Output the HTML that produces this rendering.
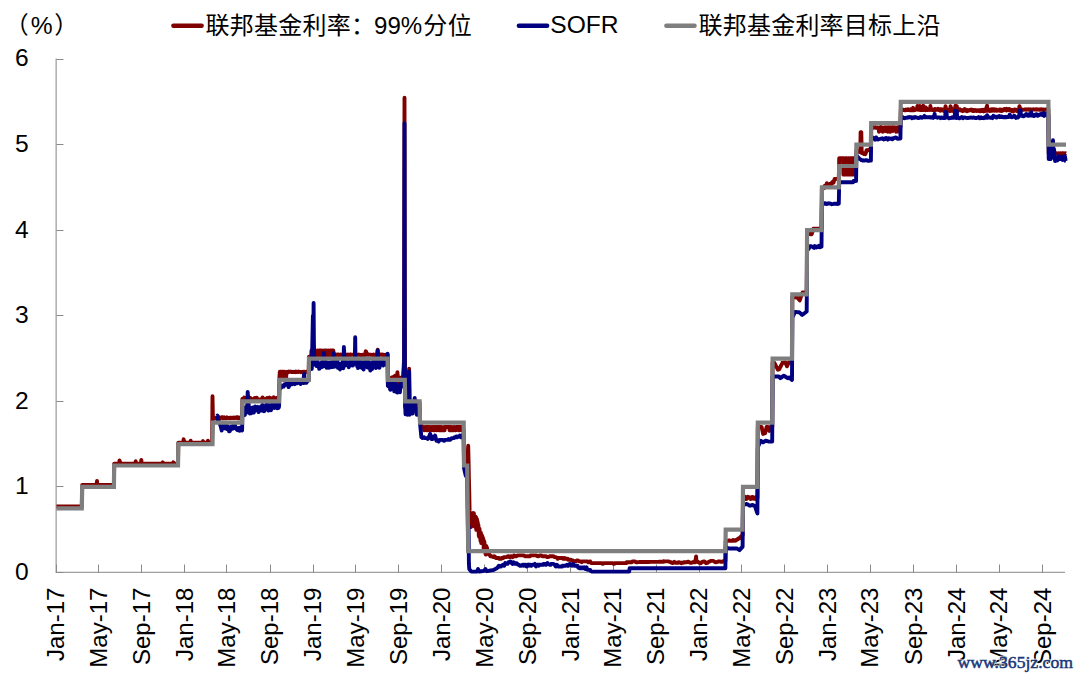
<!DOCTYPE html>
<html><head><meta charset="utf-8"><title>chart</title>
<style>html,body{margin:0;padding:0;background:#fff}body{width:1080px;height:678px;position:relative;overflow:hidden;font-family:"Liberation Sans",sans-serif}</style>
</head><body>
<svg width="1080" height="678" viewBox="0 0 1080 678" style="position:absolute;left:0;top:0">
<defs><filter id="soft" x="-2%" y="-2%" width="104%" height="104%" color-interpolation-filters="sRGB"><feGaussianBlur stdDeviation="0.4"/></filter></defs><g filter="url(#soft)">
<path d="M56.15 58.5 V572.4 H1065" fill="none" stroke="#a0a0a0" stroke-width="1.3"/><path d="M56.5 572.5 H63.5" stroke="#8a8a8a" stroke-width="1"/><path d="M56.5 486.5 H63.5" stroke="#8a8a8a" stroke-width="1"/><path d="M56.5 401.5 H63.5" stroke="#8a8a8a" stroke-width="1"/><path d="M56.5 315.5 H63.5" stroke="#8a8a8a" stroke-width="1"/><path d="M56.5 230.5 H63.5" stroke="#8a8a8a" stroke-width="1"/><path d="M56.5 144.5 H63.5" stroke="#8a8a8a" stroke-width="1"/><path d="M56.5 59.5 H63.5" stroke="#8a8a8a" stroke-width="1"/><path d="M56.5 572.5 V564.5" stroke="#8a8a8a" stroke-width="1"/><path d="M98.5 572.5 V564.5" stroke="#8a8a8a" stroke-width="1"/><path d="M141.5 572.5 V564.5" stroke="#8a8a8a" stroke-width="1"/><path d="M184.5 572.5 V564.5" stroke="#8a8a8a" stroke-width="1"/><path d="M226.5 572.5 V564.5" stroke="#8a8a8a" stroke-width="1"/><path d="M270.5 572.5 V564.5" stroke="#8a8a8a" stroke-width="1"/><path d="M313.5 572.5 V564.5" stroke="#8a8a8a" stroke-width="1"/><path d="M355.5 572.5 V564.5" stroke="#8a8a8a" stroke-width="1"/><path d="M398.5 572.5 V564.5" stroke="#8a8a8a" stroke-width="1"/><path d="M441.5 572.5 V564.5" stroke="#8a8a8a" stroke-width="1"/><path d="M484.5 572.5 V564.5" stroke="#8a8a8a" stroke-width="1"/><path d="M527.5 572.5 V564.5" stroke="#8a8a8a" stroke-width="1"/><path d="M570.5 572.5 V564.5" stroke="#8a8a8a" stroke-width="1"/><path d="M613.5 572.5 V564.5" stroke="#8a8a8a" stroke-width="1"/><path d="M656.5 572.5 V564.5" stroke="#8a8a8a" stroke-width="1"/><path d="M699.5 572.5 V564.5" stroke="#8a8a8a" stroke-width="1"/><path d="M741.5 572.5 V564.5" stroke="#8a8a8a" stroke-width="1"/><path d="M784.5 572.5 V564.5" stroke="#8a8a8a" stroke-width="1"/><path d="M827.5 572.5 V564.5" stroke="#8a8a8a" stroke-width="1"/><path d="M870.5 572.5 V564.5" stroke="#8a8a8a" stroke-width="1"/><path d="M913.5 572.5 V564.5" stroke="#8a8a8a" stroke-width="1"/><path d="M956.5 572.5 V564.5" stroke="#8a8a8a" stroke-width="1"/><path d="M999.5 572.5 V564.5" stroke="#8a8a8a" stroke-width="1"/><path d="M1042.5 572.5 V564.5" stroke="#8a8a8a" stroke-width="1"/>
<g fill="none" stroke-linejoin="round" stroke-linecap="butt" stroke-width="3.9">
<path d="M56.5 506.4 L56.8 506.4 L57.2 506.4 L57.5 506.4 L57.9 506.4 L58.9 506.4 L59.3 506.4 L59.6 506.4 L60.0 506.4 L60.3 506.4 L61.4 506.4 L61.7 506.4 L62.1 506.4 L62.4 506.4 L62.8 506.4 L63.8 506.4 L64.2 506.4 L64.6 506.4 L64.9 506.4 L65.3 506.4 L66.3 506.4 L66.7 506.4 L67.0 506.4 L67.4 506.4 L67.7 506.4 L68.8 506.4 L69.1 506.4 L69.5 506.4 L69.8 506.4 L70.2 506.4 L71.2 506.4 L71.6 506.4 L72.0 506.4 L72.3 506.4 L72.7 506.4 L73.7 506.4 L74.1 506.4 L74.4 506.4 L74.8 506.4 L75.1 506.4 L76.2 506.4 L76.5 506.4 L76.9 506.4 L77.2 506.4 L77.6 506.4 L78.6 506.4 L79.0 506.4 L79.3 506.4 L79.7 506.4 L80.1 506.4 L81.1 506.4 L81.5 506.4 L81.8 506.4 L82.2 485.0 L82.5 485.0 L83.6 485.0 L83.9 485.0 L84.3 485.0 L84.6 485.0 L85.0 485.0 L86.0 485.0 L86.4 485.0 L86.7 485.0 L87.1 485.0 L87.5 485.0 L88.5 485.0 L88.9 485.0 L89.2 485.0 L89.6 485.0 L89.9 485.0 L91.0 485.0 L91.3 485.0 L91.7 485.0 L92.0 485.0 L92.4 485.0 L93.4 485.0 L93.8 485.0 L94.1 485.0 L94.5 485.0 L94.8 485.0 L95.9 485.0 L96.3 485.0 L96.6 485.0 L97.0 480.9 L97.3 485.0 L98.4 485.0 L98.7 485.0 L99.1 485.0 L99.4 485.0 L99.8 485.0 L100.8 485.0 L101.2 485.0 L101.5 485.0 L101.9 485.0 L102.2 485.0 L103.3 485.0 L103.7 485.0 L104.0 485.0 L104.4 485.0 L104.7 485.0 L105.8 485.0 L106.1 485.0 L106.5 485.0 L106.8 485.0 L107.2 485.0 L108.2 485.0 L108.6 485.0 L108.9 485.0 L109.3 485.0 L109.6 485.0 L110.7 485.0 L111.1 485.0 L111.4 485.0 L111.8 485.0 L112.1 485.0 L113.2 485.0 L113.5 485.0 L113.9 485.0 L114.2 463.6 L114.6 463.6 L115.6 463.6 L116.0 463.6 L116.3 463.6 L116.7 463.6 L117.0 463.6 L118.1 463.6 L118.4 463.6 L118.8 463.6 L119.2 463.6 L119.5 460.4 L120.6 463.6 L120.9 463.6 L121.3 463.6 L121.6 463.6 L122.0 463.6 L123.0 463.6 L123.4 463.6 L123.7 463.6 L124.1 463.6 L124.4 463.6 L125.5 463.6 L125.8 463.6 L126.2 463.6 L126.6 463.6 L126.9 463.6 L128.0 463.6 L128.3 463.6 L128.7 463.6 L129.0 463.6 L129.4 463.6 L130.4 463.6 L130.8 463.6 L131.1 463.6 L131.5 463.6 L131.8 463.6 L132.9 463.6 L133.2 463.6 L133.6 463.6 L133.9 463.6 L134.3 463.6 L135.4 463.6 L135.7 461.2 L136.1 463.6 L136.4 463.6 L136.8 463.6 L137.8 463.6 L138.2 463.6 L138.5 463.6 L138.9 463.6 L139.2 463.6 L140.3 463.6 L140.6 463.6 L141.0 463.6 L141.3 460.0 L141.7 463.6 L142.8 463.6 L143.1 463.6 L143.5 463.6 L143.8 463.6 L144.2 463.6 L145.2 463.6 L145.6 463.6 L145.9 463.6 L146.3 463.6 L146.6 463.6 L147.7 463.6 L148.0 463.6 L148.4 463.6 L148.7 463.6 L149.1 463.6 L150.2 463.6 L150.5 463.6 L150.9 463.6 L151.2 463.6 L151.6 463.6 L152.6 463.6 L153.0 463.6 L153.3 463.6 L153.7 463.6 L154.0 463.6 L155.1 463.6 L155.4 463.6 L155.8 463.6 L156.1 463.6 L156.5 463.6 L157.5 463.6 L157.9 463.6 L158.3 463.6 L158.6 463.6 L159.0 463.6 L160.0 463.6 L160.4 463.6 L160.7 463.6 L161.1 463.6 L161.4 463.6 L162.5 463.6 L162.8 462.3 L163.2 463.6 L163.5 463.6 L163.9 463.6 L164.9 463.6 L165.3 463.6 L165.6 463.6 L166.0 463.6 L166.4 463.6 L167.4 463.6 L167.8 463.6 L168.1 463.6 L168.5 463.6 L168.8 463.6 L169.9 463.6 L170.2 463.6 L170.6 463.6 L170.9 463.6 L171.3 463.6 L172.3 463.6 L172.7 463.6 L173.0 463.6 L173.4 462.3 L173.8 463.6 L174.8 463.6 L175.2 463.6 L175.5 463.6 L175.9 463.6 L176.2 463.6 L177.3 463.6 L177.6 463.6 L178.0 463.6 L178.3 442.8 L178.7 442.8 L179.7 442.8 L180.1 442.8 L180.4 442.8 L180.8 442.8 L181.1 442.8 L182.2 442.8 L182.6 442.8 L182.9 442.8 L183.3 442.8 L183.6 439.2 L184.7 442.8 L185.0 442.8 L185.4 442.8 L185.7 442.8 L186.1 442.8 L187.1 442.8 L187.5 442.8 L187.8 442.8 L188.2 442.8 L188.5 442.8 L189.6 442.8 L190.0 442.8 L190.3 442.8 L190.7 440.7 L191.0 442.8 L192.1 442.8 L192.4 442.8 L192.8 442.8 L193.1 442.8 L193.5 442.8 L194.5 442.8 L194.9 442.8 L195.2 442.8 L195.6 442.8 L195.9 442.8 L197.0 442.8 L197.4 442.8 L197.7 442.8 L198.1 442.8 L198.4 442.8 L199.5 442.8 L199.8 442.8 L200.2 442.8 L200.5 442.8 L200.9 442.8 L201.9 442.8 L202.3 442.8 L202.6 442.8 L203.0 441.1 L203.3 442.8 L204.4 442.8 L204.7 442.8 L205.1 442.8 L205.5 442.8 L205.8 442.8 L206.9 442.8 L207.2 442.8 L207.6 442.8 L207.9 440.7 L208.3 442.8 L209.3 442.8 L209.7 442.8 L210.0 442.8 L210.4 442.8 L210.7 442.8 L211.8 442.8 L212.1 442.8 L212.5 396.2 L212.9 418.0 L213.2 418.3 L214.3 417.6 L214.6 418.4 L215.0 417.8 L215.3 418.0 L215.7 418.4 L216.7 417.8 L217.1 418.4 L217.4 417.9 L217.8 418.4 L218.1 418.3 L219.2 417.9 L219.5 417.4 L219.9 418.3 L220.2 418.2 L220.6 417.7 L221.7 417.2 L222.0 417.7 L222.4 417.9 L222.7 417.2 L223.1 418.4 L224.1 417.4 L224.5 418.1 L224.8 418.3 L225.2 418.3 L225.5 418.1 L226.6 417.4 L226.9 418.2 L227.3 417.7 L227.6 417.6 L228.0 418.0 L229.1 417.8 L229.4 418.4 L229.8 418.4 L230.1 418.2 L230.5 417.6 L231.5 417.9 L231.9 418.1 L232.2 417.7 L232.6 417.9 L232.9 418.1 L234.0 417.4 L234.3 417.6 L234.7 418.1 L235.0 417.7 L235.4 417.8 L236.5 417.3 L236.8 417.5 L237.2 418.1 L237.5 417.2 L237.9 418.3 L238.9 417.9 L239.3 417.5 L239.6 418.3 L240.0 417.8 L240.3 418.4 L241.4 417.6 L241.7 417.5 L242.1 417.7 L242.4 398.9 L242.8 398.6 L243.8 398.9 L244.2 397.6 L244.6 398.8 L244.9 399.5 L245.3 398.0 L246.3 399.0 L246.7 399.0 L247.0 399.6 L247.4 399.6 L247.7 399.5 L248.8 399.5 L249.1 398.8 L249.5 399.5 L249.8 398.4 L250.2 397.8 L251.2 399.3 L251.6 398.8 L252.0 399.3 L252.3 399.5 L252.7 399.3 L253.7 399.2 L254.1 399.6 L254.4 399.1 L254.8 397.9 L255.1 398.8 L256.2 399.5 L256.5 397.8 L256.9 397.8 L257.2 399.2 L257.6 399.5 L258.6 399.6 L259.0 399.5 L259.3 399.6 L259.7 399.6 L260.1 399.5 L261.1 399.6 L261.5 399.4 L261.8 399.4 L262.2 399.5 L262.5 397.5 L263.6 399.0 L263.9 399.6 L264.3 399.4 L264.6 399.3 L265.0 399.6 L266.0 399.4 L266.4 399.6 L266.7 398.3 L267.1 398.1 L267.4 399.4 L268.5 399.3 L268.9 398.6 L269.2 399.4 L269.6 397.6 L269.9 397.9 L271.0 398.1 L271.3 399.3 L271.7 399.6 L272.0 399.6 L272.4 399.2 L273.4 398.5 L273.8 397.3 L274.1 398.7 L274.5 399.5 L274.8 399.5 L275.9 398.2 L276.3 398.6 L276.6 398.3 L277.0 399.5 L277.3 397.8 L278.4 398.7 L278.7 399.3 L279.1 398.9 L279.4 378.2 L279.8 371.8 L280.8 371.8 L281.2 378.2 L281.5 378.2 L281.9 371.8 L282.2 371.8 L283.3 371.8 L283.7 378.2 L284.0 378.2 L284.4 371.8 L284.7 378.2 L285.8 378.2 L286.1 378.2 L286.5 372.0 L286.8 371.9 L287.2 372.2 L288.2 372.2 L288.6 371.6 L288.9 371.8 L289.3 371.9 L289.6 371.6 L290.7 371.9 L291.1 371.6 L291.4 371.7 L291.8 372.1 L292.1 372.1 L293.2 372.0 L293.5 372.1 L293.9 371.8 L294.2 372.1 L294.6 372.0 L295.6 372.2 L296.0 371.6 L296.3 372.0 L296.7 371.9 L297.0 371.8 L298.1 371.6 L298.4 372.0 L298.8 371.6 L299.2 371.9 L299.5 371.9 L300.6 371.9 L300.9 372.2 L301.3 371.9 L301.6 372.1 L302.0 372.2 L303.0 371.7 L303.4 372.1 L303.7 371.9 L304.1 371.7 L304.4 371.9 L305.5 372.0 L305.8 371.9 L306.2 371.9 L306.5 371.7 L306.9 372.2 L308.0 371.9 L308.3 372.1 L308.7 372.1 L309.0 356.8 L309.4 356.8 L310.4 356.8 L310.8 356.8 L311.1 356.8 L311.5 350.4 L311.8 356.8 L312.9 356.8 L313.2 356.8 L313.6 356.8 L313.9 350.4 L314.3 356.8 L315.4 350.4 L315.7 356.8 L316.1 356.8 L316.4 356.8 L316.8 356.8 L317.8 350.4 L318.2 356.8 L318.5 356.8 L318.9 356.8 L319.2 350.4 L320.3 350.4 L320.6 350.4 L321.0 350.4 L321.3 350.4 L321.7 350.4 L322.8 356.8 L323.1 356.8 L323.5 356.8 L323.8 350.4 L324.2 356.8 L325.2 356.8 L325.6 350.4 L325.9 356.8 L326.3 356.8 L326.6 350.4 L327.7 356.8 L328.0 350.4 L328.4 350.4 L328.7 356.8 L329.1 356.8 L330.2 350.4 L330.5 350.4 L330.9 356.8 L331.2 350.4 L331.6 350.4 L332.6 350.4 L333.0 356.8 L333.3 350.4 L333.7 356.8 L334.0 354.8 L335.1 355.1 L335.4 354.9 L335.8 354.7 L336.1 354.8 L336.5 355.1 L337.5 354.5 L337.9 354.6 L338.3 354.5 L338.6 355.1 L339.0 354.9 L340.0 355.1 L340.4 354.6 L340.7 354.9 L341.1 355.0 L341.4 354.8 L342.5 354.5 L342.8 354.6 L343.2 354.9 L343.5 355.0 L343.9 354.5 L344.9 354.7 L345.3 354.6 L345.6 355.1 L346.0 355.1 L346.4 354.7 L347.4 354.8 L347.8 355.1 L348.1 354.5 L348.5 354.7 L348.8 354.6 L349.9 355.1 L350.2 354.5 L350.6 355.1 L350.9 354.5 L351.3 354.8 L352.3 354.9 L352.7 354.7 L353.0 354.5 L353.4 354.9 L353.8 355.0 L354.8 354.8 L355.2 355.0 L355.5 355.1 L355.9 355.0 L356.2 355.1 L357.3 355.0 L357.6 354.9 L358.0 354.9 L358.3 354.6 L358.7 354.9 L359.7 354.8 L360.1 355.0 L360.4 354.9 L360.8 355.1 L361.1 355.0 L362.2 355.1 L362.6 354.6 L362.9 354.7 L363.3 355.0 L363.6 354.8 L364.7 354.5 L365.0 355.1 L365.4 354.6 L365.7 351.3 L366.1 351.7 L367.1 354.6 L367.5 354.9 L367.8 354.8 L368.2 354.7 L368.5 354.5 L369.6 354.9 L370.0 354.6 L370.3 354.6 L370.7 354.7 L371.0 354.8 L372.1 354.9 L372.4 355.1 L372.8 355.0 L373.1 355.1 L373.5 354.6 L374.5 355.0 L374.9 355.0 L375.2 355.1 L375.6 354.6 L375.9 354.5 L377.0 354.7 L377.4 351.7 L377.7 349.6 L378.1 354.9 L378.4 354.8 L379.5 355.0 L379.8 354.8 L380.2 354.9 L380.5 354.5 L380.9 354.5 L381.9 354.8 L382.3 355.0 L382.6 354.5 L383.0 354.9 L383.3 354.9 L384.4 355.1 L384.7 354.9 L385.1 354.8 L385.5 354.8 L385.8 355.0 L386.9 354.8 L387.2 355.1 L387.6 354.9 L387.9 385.0 L388.3 381.8 L389.3 385.5 L389.7 385.7 L390.0 382.8 L390.4 383.5 L390.7 379.9 L391.8 377.4 L392.1 378.2 L392.5 379.2 L392.9 378.6 L393.2 376.9 L394.3 381.9 L394.6 382.6 L395.0 375.8 L395.3 384.4 L395.7 378.5 L396.7 379.3 L397.1 385.5 L397.4 372.2 L397.8 376.8 L398.1 379.5 L399.2 378.4 L399.5 377.6 L399.9 384.5 L400.2 380.6 L400.6 380.8 L401.7 377.4 L402.0 377.7 L402.4 377.4 L402.7 379.9 L403.1 376.8 L404.1 358.6 L404.5 97.7 L404.8 315.8 L405.2 407.1 L405.5 406.5 L406.6 405.2 L406.9 406.7 L407.3 402.3 L407.6 404.0 L408.0 403.6 L409.1 368.8 L409.4 384.2 L409.8 404.4 L410.1 407.3 L410.5 402.6 L411.5 402.8 L411.9 404.3 L412.2 404.1 L412.6 403.4 L412.9 406.9 L414.0 402.9 L414.3 405.8 L414.7 406.9 L415.0 405.7 L415.4 403.0 L416.5 406.1 L416.8 402.9 L417.2 401.5 L417.5 404.4 L417.9 405.0 L418.9 404.5 L419.3 403.2 L419.6 402.7 L420.0 423.6 L420.3 424.0 L421.4 425.3 L421.7 425.7 L422.1 426.2 L422.4 426.6 L422.8 427.0 L423.8 428.3 L424.2 430.3 L424.6 430.3 L424.9 427.0 L425.3 427.0 L426.3 427.0 L426.7 430.3 L427.0 427.0 L427.4 430.3 L427.7 427.0 L428.8 427.0 L429.1 427.0 L429.5 430.3 L429.8 430.3 L430.2 430.3 L431.2 427.0 L431.6 430.3 L432.0 427.0 L432.3 427.0 L432.7 427.0 L433.7 430.3 L434.1 427.0 L434.4 430.3 L434.8 430.3 L435.1 427.0 L436.2 427.0 L436.5 430.3 L436.9 430.3 L437.2 427.0 L437.6 427.0 L438.6 427.0 L439.0 430.3 L439.3 427.0 L439.7 430.3 L440.1 427.0 L441.1 430.3 L441.5 430.3 L441.8 427.0 L442.2 430.3 L442.5 430.3 L443.6 430.3 L443.9 430.3 L444.3 427.0 L444.6 430.3 L445.0 427.0 L446.0 427.0 L446.4 427.0 L446.7 427.0 L447.1 427.0 L447.4 427.0 L448.5 427.0 L448.9 427.0 L449.2 427.0 L449.6 430.3 L449.9 427.0 L451.0 430.3 L451.3 430.3 L451.7 427.0 L452.0 430.3 L452.4 430.3 L453.4 430.3 L453.8 427.0 L454.1 427.0 L454.5 427.0 L454.8 430.3 L455.9 430.3 L456.3 427.0 L456.6 427.0 L457.0 427.0 L457.3 427.0 L458.4 427.0 L458.7 430.3 L459.1 427.0 L459.4 430.3 L459.8 427.0 L460.8 427.0 L461.2 430.3 L461.5 427.0 L461.9 427.0 L462.2 430.3 L463.3 430.3 L463.7 430.3 L464.0 463.0 L464.4 463.0 L464.7 463.0 L465.8 463.0 L466.1 463.0 L466.5 463.0 L466.8 463.0 L467.2 463.0 L468.2 445.8 L468.6 462.1 L468.9 478.4 L469.3 494.6 L469.6 510.9 L470.7 527.1 L471.1 526.8 L471.4 526.5 L471.8 526.2 L472.1 525.9 L473.2 512.9 L473.5 524.6 L473.9 513.3 L474.2 525.9 L474.6 526.6 L475.6 516.6 L476.0 517.3 L476.3 529.9 L476.7 518.6 L477.0 519.7 L478.1 524.2 L478.4 525.3 L478.8 535.8 L479.2 536.9 L479.5 528.6 L480.6 541.3 L480.9 532.8 L481.3 543.1 L481.6 534.7 L482.0 535.6 L483.0 538.4 L483.4 539.3 L483.7 549.7 L484.1 541.2 L484.4 542.1 L485.5 553.8 L485.8 554.6 L486.2 545.9 L486.5 546.7 L486.9 547.4 L488.0 553.7 L488.3 553.7 L488.7 553.7 L489.0 554.5 L489.4 554.5 L490.4 556.2 L490.8 556.2 L491.1 556.2 L491.5 556.2 L491.8 556.2 L492.9 557.1 L493.2 557.1 L493.6 557.1 L493.9 557.1 L494.3 556.2 L495.4 557.1 L495.7 558.0 L496.1 558.0 L496.4 558.0 L496.8 558.0 L497.8 558.0 L498.2 558.0 L498.5 558.0 L498.9 558.0 L499.2 558.8 L500.3 558.8 L500.6 558.8 L501.0 558.8 L501.3 558.8 L501.7 558.0 L502.8 558.0 L503.1 558.0 L503.5 558.0 L503.8 557.1 L504.2 557.1 L505.2 557.1 L505.6 557.1 L505.9 557.1 L506.3 557.1 L506.6 557.1 L507.7 556.2 L508.0 556.2 L508.4 556.2 L508.7 556.2 L509.1 557.1 L510.2 557.1 L510.5 557.1 L510.9 556.2 L511.2 556.2 L511.6 556.2 L512.6 557.1 L513.0 556.2 L513.3 556.2 L513.7 556.2 L514.0 555.4 L515.1 556.2 L515.4 556.2 L515.8 556.2 L516.1 556.2 L516.5 556.2 L517.5 555.4 L517.9 555.4 L518.3 555.4 L518.6 555.4 L519.0 555.4 L520.0 555.4 L520.4 555.4 L520.7 555.4 L521.1 555.4 L521.4 555.4 L522.5 555.4 L522.8 555.4 L523.2 555.4 L523.5 555.4 L523.9 555.4 L524.9 556.2 L525.3 556.2 L525.6 556.2 L526.0 556.2 L526.4 556.2 L527.4 556.2 L527.8 556.2 L528.1 556.2 L528.5 556.2 L528.8 556.2 L529.9 556.2 L530.2 556.2 L530.6 555.4 L530.9 555.4 L531.3 555.4 L532.3 555.4 L532.7 555.4 L533.0 555.4 L533.4 555.4 L533.8 555.4 L534.8 555.4 L535.2 555.4 L535.5 555.4 L535.9 555.4 L536.2 555.4 L537.3 556.2 L537.6 556.2 L538.0 556.2 L538.3 556.2 L538.7 556.2 L539.7 555.4 L540.1 555.4 L540.4 555.4 L540.8 555.4 L541.1 555.4 L542.2 556.2 L542.6 556.2 L542.9 556.2 L543.3 556.2 L543.6 556.2 L544.7 556.2 L545.0 556.2 L545.4 556.2 L545.7 556.2 L546.1 556.2 L547.1 557.1 L547.5 557.1 L547.8 557.1 L548.2 557.1 L548.5 557.1 L549.6 556.2 L550.0 556.2 L550.3 556.2 L550.7 556.2 L551.0 556.2 L552.1 556.2 L552.4 556.2 L552.8 556.2 L553.1 556.2 L553.5 556.2 L554.5 557.1 L554.9 557.1 L555.2 557.1 L555.6 557.1 L555.9 557.1 L557.0 558.0 L557.4 558.0 L557.7 558.8 L558.1 558.0 L558.4 558.0 L559.5 558.0 L559.8 558.0 L560.2 558.0 L560.5 558.0 L560.9 558.0 L561.9 558.0 L562.3 558.0 L562.6 558.0 L563.0 558.8 L563.3 558.8 L564.4 558.8 L564.7 558.0 L565.1 558.8 L565.5 558.8 L565.8 558.8 L566.9 558.8 L567.2 558.8 L567.6 558.8 L567.9 559.7 L568.3 559.7 L569.3 559.7 L569.7 559.7 L570.0 559.7 L570.4 559.7 L570.7 559.7 L571.8 560.5 L572.1 560.5 L572.5 560.5 L572.9 560.5 L573.2 560.5 L574.3 561.4 L574.6 561.4 L575.0 561.4 L575.3 561.4 L575.7 561.4 L576.7 560.5 L577.1 560.5 L577.4 560.5 L577.8 560.5 L578.1 560.5 L579.2 561.4 L579.5 561.4 L579.9 561.4 L580.2 561.4 L580.6 561.4 L581.7 562.2 L582.0 561.4 L582.4 561.4 L582.7 561.4 L583.1 561.4 L584.1 561.4 L584.5 561.4 L584.8 561.4 L585.2 561.4 L585.5 561.4 L586.6 561.4 L586.9 561.4 L587.3 561.4 L587.6 561.4 L588.0 562.2 L589.1 562.2 L589.4 562.2 L589.8 562.2 L590.1 561.4 L590.5 562.2 L591.5 563.1 L591.9 563.1 L592.2 563.1 L592.6 563.1 L592.9 563.1 L594.0 563.1 L594.3 563.1 L594.7 563.1 L595.0 563.1 L595.4 563.1 L596.5 563.1 L596.8 563.1 L597.2 563.1 L597.5 563.1 L597.9 563.1 L598.9 563.1 L599.3 563.1 L599.6 563.1 L600.0 563.1 L600.3 563.1 L601.4 563.1 L601.7 563.1 L602.1 563.1 L602.4 563.9 L602.8 563.9 L603.8 563.1 L604.2 563.1 L604.6 563.1 L604.9 563.1 L605.3 563.1 L606.3 563.1 L606.7 563.1 L607.0 563.1 L607.4 563.1 L607.7 563.1 L608.8 563.1 L609.1 563.1 L609.5 563.1 L609.8 563.1 L610.2 563.1 L611.2 563.1 L611.6 563.1 L612.0 563.1 L612.3 563.1 L612.7 563.1 L613.7 563.9 L614.1 563.9 L614.4 563.9 L614.8 563.1 L615.1 563.1 L616.2 563.1 L616.5 563.1 L616.9 563.1 L617.2 563.1 L617.6 563.1 L618.6 563.1 L619.0 563.1 L619.3 563.1 L619.7 563.1 L620.1 563.1 L621.1 563.1 L621.5 563.1 L621.8 563.1 L622.2 563.1 L622.5 563.1 L623.6 563.1 L623.9 563.1 L624.3 563.1 L624.6 563.1 L625.0 563.1 L626.0 563.1 L626.4 563.1 L626.7 562.2 L627.1 562.2 L627.4 562.2 L628.5 562.2 L628.9 562.2 L629.2 562.2 L629.6 562.2 L629.9 562.2 L631.0 562.2 L631.3 562.2 L631.7 562.2 L632.0 562.2 L632.4 561.4 L633.4 561.4 L633.8 561.4 L634.1 561.4 L634.5 561.4 L634.8 561.4 L635.9 562.2 L636.3 562.2 L636.6 562.2 L637.0 562.2 L637.3 562.2 L638.4 562.1 L638.7 562.1 L639.1 562.1 L639.4 562.0 L639.8 562.0 L640.8 562.0 L641.2 562.0 L641.5 562.0 L641.9 562.0 L642.2 562.0 L643.3 562.0 L643.7 562.0 L644.0 562.0 L644.4 562.0 L644.7 562.0 L645.8 562.0 L646.1 562.0 L646.5 562.0 L646.8 562.0 L647.2 562.0 L648.2 562.0 L648.6 562.0 L648.9 562.0 L649.3 561.9 L649.6 561.9 L650.7 561.9 L651.1 561.9 L651.4 561.9 L651.8 561.9 L652.1 561.9 L653.2 561.9 L653.5 561.9 L653.9 561.9 L654.2 561.9 L654.6 561.9 L655.6 561.9 L656.0 561.9 L656.3 561.9 L656.7 561.9 L657.0 561.9 L658.1 561.9 L658.4 561.9 L658.8 561.8 L659.2 561.8 L659.5 561.8 L660.6 561.8 L660.9 561.8 L661.3 561.8 L661.6 561.8 L662.0 561.8 L663.0 561.8 L663.4 561.4 L663.7 561.8 L664.1 561.4 L664.4 561.4 L665.5 561.4 L665.8 561.4 L666.2 561.4 L666.5 561.4 L666.9 561.4 L668.0 561.4 L668.3 561.4 L668.7 561.4 L669.0 561.4 L669.4 561.8 L670.4 562.2 L670.8 562.2 L671.1 562.2 L671.5 562.7 L671.8 562.7 L672.9 563.1 L673.2 562.7 L673.6 562.2 L673.9 562.2 L674.3 561.8 L675.4 562.7 L675.7 562.7 L676.1 562.7 L676.4 562.7 L676.8 562.7 L677.8 562.7 L678.2 562.7 L678.5 562.2 L678.9 562.2 L679.2 562.2 L680.3 562.7 L680.6 562.7 L681.0 562.7 L681.3 563.1 L681.7 562.7 L682.8 562.7 L683.1 562.7 L683.5 562.7 L683.8 562.2 L684.2 562.2 L685.2 562.2 L685.6 562.2 L685.9 562.2 L686.3 562.2 L686.6 562.2 L687.7 561.8 L688.0 561.8 L688.4 561.8 L688.7 561.8 L689.1 562.2 L690.2 562.7 L690.5 562.7 L690.9 562.7 L691.2 562.7 L691.6 562.7 L692.6 562.2 L693.0 562.2 L693.3 562.2 L693.7 561.8 L694.0 562.2 L695.1 562.2 L695.4 562.2 L695.8 558.8 L696.1 556.5 L696.5 561.8 L697.5 561.4 L697.9 561.8 L698.3 562.2 L698.6 562.2 L699.0 562.7 L700.0 562.7 L700.4 562.7 L700.7 563.1 L701.1 562.7 L701.4 562.7 L702.5 561.8 L702.8 561.8 L703.2 561.8 L703.5 561.4 L703.9 561.4 L704.9 561.8 L705.3 562.2 L705.6 562.7 L706.0 563.1 L706.4 562.7 L707.4 562.7 L707.8 562.7 L708.1 562.2 L708.5 562.2 L708.8 561.8 L709.9 561.4 L710.2 561.4 L710.6 560.9 L710.9 560.9 L711.3 560.9 L712.3 560.9 L712.7 560.9 L713.0 560.9 L713.4 560.9 L713.8 561.4 L714.8 561.8 L715.2 562.2 L715.5 562.2 L715.9 562.2 L716.2 562.2 L717.3 561.8 L717.6 561.8 L718.0 561.4 L718.3 561.4 L718.7 561.4 L719.7 561.4 L720.1 561.4 L720.4 561.8 L720.8 561.8 L721.1 561.8 L722.2 561.8 L722.6 561.8 L722.9 561.4 L723.3 561.4 L723.6 560.9 L724.7 560.9 L725.0 560.9 L725.4 560.9 L725.7 541.2 L726.1 541.0 L727.1 541.1 L727.5 541.0 L727.8 541.0 L728.2 540.7 L728.5 540.4 L729.6 540.5 L730.0 540.7 L730.3 540.7 L730.7 540.6 L731.0 540.7 L732.1 540.7 L732.4 540.9 L732.8 540.7 L733.1 540.1 L733.5 540.8 L734.5 540.5 L734.9 540.3 L735.2 540.1 L735.6 540.7 L735.9 540.4 L737.0 539.8 L737.4 539.5 L737.7 539.3 L738.1 538.7 L738.4 538.6 L739.5 537.9 L739.8 538.3 L740.2 537.9 L740.5 536.9 L740.9 536.4 L741.9 535.6 L742.3 535.2 L742.6 535.3 L743.0 498.2 L743.3 496.9 L744.4 497.1 L744.7 497.0 L745.1 496.7 L745.5 498.6 L745.8 499.0 L746.9 498.8 L747.2 497.9 L747.6 497.5 L747.9 496.8 L748.3 497.4 L749.3 497.6 L749.7 497.3 L750.0 498.1 L750.4 497.8 L750.7 499.1 L751.8 497.2 L752.1 498.6 L752.5 496.9 L752.9 497.6 L753.2 498.5 L754.3 498.9 L754.6 498.6 L755.0 497.6 L755.3 497.4 L755.7 499.0 L756.7 499.1 L757.1 497.9 L757.4 497.7 L757.8 427.0 L758.1 427.0 L759.2 427.0 L759.5 427.0 L759.9 427.0 L760.2 427.0 L760.6 427.0 L761.7 427.0 L762.0 428.7 L762.4 430.4 L762.7 432.1 L763.1 433.9 L764.1 433.4 L764.5 433.3 L764.8 433.1 L765.2 433.0 L765.5 431.5 L766.6 427.0 L766.9 427.0 L767.3 427.0 L767.6 427.0 L768.0 427.0 L769.1 429.9 L769.4 430.9 L769.8 429.6 L770.1 428.3 L770.5 427.0 L771.5 427.0 L771.9 427.0 L772.2 427.0 L772.6 362.4 L772.9 362.5 L774.0 362.7 L774.3 362.8 L774.7 363.5 L775.0 364.2 L775.4 364.9 L776.5 366.9 L776.8 367.6 L777.2 368.3 L777.5 369.0 L777.9 369.7 L778.9 369.4 L779.3 369.2 L779.6 368.5 L780.0 367.8 L780.3 367.1 L781.4 365.0 L781.7 364.3 L782.1 363.5 L782.4 362.8 L782.8 362.8 L783.8 362.6 L784.2 362.6 L784.6 362.5 L784.9 362.5 L785.3 362.4 L786.3 364.7 L786.7 365.5 L787.0 366.3 L787.4 365.5 L787.7 364.7 L788.8 362.4 L789.1 362.4 L789.5 362.4 L789.8 362.4 L790.2 362.4 L791.2 362.4 L791.6 362.4 L792.0 362.4 L792.3 296.9 L792.7 297.0 L793.7 297.2 L794.1 297.2 L794.4 297.3 L794.8 297.3 L795.1 297.4 L796.2 297.6 L796.5 297.6 L796.9 297.7 L797.2 297.7 L797.6 297.8 L798.6 299.1 L799.0 299.5 L799.3 299.9 L799.7 300.4 L800.1 299.3 L801.1 296.2 L801.5 295.2 L801.8 294.3 L802.2 293.4 L802.5 292.5 L803.6 292.5 L803.9 292.5 L804.3 292.5 L804.6 292.5 L805.0 292.5 L806.0 292.5 L806.4 292.5 L806.7 292.5 L807.1 231.9 L807.4 232.2 L808.5 233.3 L808.9 233.7 L809.2 234.0 L809.6 234.1 L809.9 234.1 L811.0 234.2 L811.3 234.2 L811.7 234.2 L812.0 233.1 L812.4 232.0 L813.4 228.6 L813.8 228.6 L814.1 228.6 L814.5 228.6 L814.8 228.6 L815.9 228.6 L816.3 228.6 L816.6 228.6 L817.0 228.6 L817.3 228.6 L818.4 228.6 L818.7 228.6 L819.1 228.6 L819.4 228.6 L819.8 228.6 L820.8 228.6 L821.2 228.6 L821.5 228.6 L821.9 188.2 L822.2 188.2 L823.3 188.2 L823.7 188.2 L824.0 188.2 L824.4 187.0 L824.7 185.7 L825.8 185.7 L826.1 185.7 L826.5 185.7 L826.8 183.1 L827.2 185.7 L828.2 185.5 L828.6 185.4 L828.9 185.3 L829.3 185.3 L829.6 184.0 L830.7 185.3 L831.1 184.5 L831.4 183.8 L831.8 183.0 L832.1 182.3 L833.2 182.6 L833.5 182.7 L833.9 181.5 L834.2 180.2 L834.6 179.0 L835.6 179.0 L836.0 178.9 L836.3 178.9 L836.7 178.9 L837.0 178.9 L838.1 178.9 L838.4 178.8 L838.8 178.8 L839.2 158.3 L839.5 158.3 L840.6 158.3 L840.9 158.3 L841.3 158.3 L841.6 158.3 L842.0 158.3 L843.0 158.3 L843.4 174.6 L843.7 158.3 L844.1 174.6 L844.4 174.6 L845.5 158.3 L845.8 174.6 L846.2 158.3 L846.5 174.6 L846.9 158.3 L848.0 174.6 L848.3 158.3 L848.7 174.6 L849.0 158.3 L849.4 174.6 L850.4 158.3 L850.8 174.6 L851.1 158.3 L851.5 174.6 L851.8 158.3 L852.9 158.3 L853.2 158.3 L853.6 174.6 L853.9 158.3 L854.3 174.6 L855.4 174.6 L855.7 174.6 L856.1 158.3 L856.4 150.7 L856.8 151.0 L857.8 151.1 L858.2 151.8 L858.5 151.7 L858.9 151.7 L859.2 151.4 L860.3 152.2 L860.6 132.1 L861.0 132.1 L861.3 132.1 L861.7 153.0 L862.8 152.8 L863.1 153.2 L863.5 153.7 L863.8 154.1 L864.2 153.9 L865.2 154.3 L865.6 153.5 L865.9 152.7 L866.3 151.4 L866.6 150.2 L867.7 150.4 L868.0 150.4 L868.4 150.0 L868.7 149.8 L869.1 149.4 L870.1 149.4 L870.5 148.8 L870.9 148.7 L871.2 127.5 L871.6 127.7 L872.6 127.2 L873.0 127.6 L873.3 127.3 L873.7 127.7 L874.0 127.7 L875.1 127.3 L875.4 127.6 L875.8 127.2 L876.1 127.5 L876.5 127.7 L877.5 127.7 L877.9 127.4 L878.3 127.7 L878.6 127.7 L879.0 131.7 L880.0 127.6 L880.4 127.2 L880.7 127.1 L881.1 130.2 L881.4 130.6 L882.5 127.6 L882.8 131.8 L883.2 127.6 L883.5 130.1 L883.9 127.7 L884.9 127.3 L885.3 131.0 L885.6 127.6 L886.0 127.7 L886.4 131.1 L887.4 127.3 L887.8 131.7 L888.1 130.5 L888.5 127.2 L888.8 127.6 L889.9 130.5 L890.2 131.8 L890.6 127.3 L890.9 127.4 L891.3 130.9 L892.3 127.2 L892.7 131.0 L893.0 127.5 L893.4 127.7 L893.8 127.3 L894.8 127.3 L895.2 127.6 L895.5 127.6 L895.9 130.5 L896.2 131.7 L897.3 127.4 L897.6 127.2 L898.0 131.6 L898.3 127.8 L898.7 127.3 L899.7 127.7 L900.1 127.4 L900.4 127.3 L900.8 109.8 L901.1 110.3 L902.2 109.6 L902.6 110.2 L902.9 109.9 L903.3 110.1 L903.6 109.7 L904.7 110.2 L905.0 110.2 L905.4 110.2 L905.7 110.3 L906.1 109.5 L907.1 109.9 L907.5 110.1 L907.8 110.0 L908.2 109.4 L908.5 109.9 L909.6 110.2 L910.0 109.6 L910.3 109.8 L910.7 109.4 L911.0 110.3 L912.1 110.0 L912.4 109.6 L912.8 109.6 L913.1 107.8 L913.5 110.4 L914.5 110.2 L914.9 110.1 L915.2 110.0 L915.6 109.2 L915.9 109.6 L917.0 109.2 L917.4 105.9 L917.7 109.3 L918.1 109.7 L918.4 109.9 L919.5 109.4 L919.8 105.9 L920.2 110.1 L920.5 109.6 L920.9 109.6 L921.9 110.0 L922.3 109.8 L922.6 110.1 L923.0 110.0 L923.3 105.7 L924.4 109.6 L924.7 109.5 L925.1 110.0 L925.5 110.2 L925.8 107.4 L926.9 109.5 L927.2 110.0 L927.6 109.9 L927.9 110.0 L928.3 109.4 L929.3 109.6 L929.7 110.1 L930.0 110.1 L930.4 105.9 L930.7 109.6 L931.8 109.5 L932.1 110.1 L932.5 110.0 L932.9 109.5 L933.2 109.8 L934.3 110.3 L934.6 110.2 L935.0 108.9 L935.3 110.0 L935.7 109.5 L936.7 109.9 L937.1 109.8 L937.4 109.0 L937.8 108.8 L938.1 109.9 L939.2 110.2 L939.5 109.2 L939.9 110.3 L940.2 110.8 L940.6 109.2 L941.7 110.3 L942.0 109.6 L942.4 110.4 L942.7 109.5 L943.1 110.3 L944.1 110.9 L944.5 111.1 L944.8 110.0 L945.2 109.8 L945.5 106.1 L946.6 110.7 L946.9 109.6 L947.3 110.0 L947.6 109.7 L948.0 110.3 L949.1 110.5 L949.4 110.2 L949.8 109.6 L950.1 111.2 L950.5 106.1 L951.5 109.7 L951.9 109.4 L952.2 110.8 L952.6 110.9 L952.9 109.3 L954.0 109.2 L954.3 110.1 L954.7 110.9 L955.0 109.2 L955.4 105.7 L956.5 109.2 L956.8 106.1 L957.2 109.2 L957.5 110.5 L957.9 109.2 L958.9 110.2 L959.3 109.9 L959.6 109.1 L960.0 109.1 L960.3 110.4 L961.4 110.6 L961.7 110.3 L962.1 110.2 L962.4 110.6 L962.8 111.2 L963.8 110.5 L964.2 109.5 L964.6 109.0 L964.9 110.5 L965.3 109.7 L966.3 109.7 L966.7 111.2 L967.0 109.9 L967.4 111.2 L967.7 110.2 L968.8 110.2 L969.1 110.0 L969.5 110.5 L969.8 110.2 L970.2 109.8 L971.2 109.9 L971.6 109.6 L972.0 110.0 L972.3 110.1 L972.7 111.0 L973.7 110.1 L974.1 110.4 L974.4 110.9 L974.8 110.0 L975.1 110.0 L976.2 110.5 L976.5 110.9 L976.9 110.2 L977.2 110.8 L977.6 110.7 L978.6 110.3 L979.0 110.9 L979.3 110.3 L979.7 110.2 L980.1 111.1 L981.1 110.0 L981.5 111.1 L981.8 109.9 L982.2 109.8 L982.5 110.4 L983.6 111.4 L983.9 110.6 L984.3 110.7 L984.6 109.5 L985.0 111.0 L986.0 109.4 L986.4 109.2 L986.7 106.9 L987.1 105.7 L987.4 110.8 L988.5 109.5 L988.9 110.4 L989.2 109.6 L989.6 109.6 L989.9 111.1 L991.0 109.7 L991.3 109.3 L991.7 110.8 L992.0 110.2 L992.4 109.3 L993.4 110.5 L993.8 109.2 L994.1 110.4 L994.5 109.4 L994.8 110.7 L995.9 110.2 L996.3 109.5 L996.6 110.8 L997.0 110.7 L997.3 110.1 L998.4 110.2 L998.7 110.6 L999.1 110.5 L999.4 110.7 L999.8 109.4 L1000.8 110.3 L1001.2 109.8 L1001.5 111.0 L1001.9 109.7 L1002.2 110.9 L1003.3 109.9 L1003.7 109.6 L1004.0 110.1 L1004.4 109.1 L1004.7 109.7 L1005.8 109.6 L1006.1 109.0 L1006.5 110.5 L1006.8 108.8 L1007.2 109.5 L1008.2 110.0 L1008.6 109.2 L1008.9 110.2 L1009.3 108.9 L1009.6 109.8 L1010.7 110.5 L1011.0 109.8 L1011.4 110.6 L1011.8 111.1 L1012.1 110.0 L1013.2 111.4 L1013.5 110.0 L1013.9 111.0 L1014.2 110.1 L1014.6 109.4 L1015.6 109.8 L1016.0 109.7 L1016.3 110.4 L1016.7 111.0 L1017.0 111.0 L1018.1 110.8 L1018.4 109.9 L1018.8 110.1 L1019.2 107.8 L1019.5 106.1 L1020.6 110.5 L1020.9 110.4 L1021.3 109.4 L1021.6 109.8 L1022.0 109.8 L1023.0 109.6 L1023.4 109.7 L1023.7 109.6 L1024.1 109.7 L1024.4 109.5 L1025.5 109.5 L1025.8 109.7 L1026.2 109.4 L1026.5 109.5 L1026.9 109.7 L1028.0 109.3 L1028.3 109.6 L1028.7 109.7 L1029.0 109.7 L1029.4 109.4 L1030.4 109.3 L1030.8 109.4 L1031.1 109.6 L1031.5 109.6 L1031.8 109.8 L1032.9 109.4 L1033.2 109.5 L1033.6 109.6 L1033.9 109.4 L1034.3 109.5 L1035.4 109.3 L1035.7 109.4 L1036.1 109.6 L1036.4 109.3 L1036.8 109.7 L1037.8 109.5 L1038.2 109.6 L1038.5 109.6 L1038.9 109.7 L1039.2 109.4 L1040.3 109.8 L1040.6 109.5 L1041.0 109.3 L1041.3 109.7 L1041.7 109.7 L1042.8 109.5 L1043.1 109.5 L1043.5 109.4 L1043.8 109.4 L1044.2 109.7 L1045.2 109.6 L1045.6 109.6 L1045.9 109.7 L1046.3 109.3 L1046.6 109.4 L1047.7 109.4 L1048.0 109.8 L1048.4 109.3 L1048.7 153.4 L1049.1 153.6 L1050.1 153.4 L1050.5 153.6 L1050.9 153.8 L1051.2 153.9 L1051.6 153.8 L1052.6 154.0 L1053.0 153.7 L1053.3 153.4 L1053.7 153.4 L1054.0 153.3 L1055.1 153.4 L1055.4 153.8 L1055.8 153.5 L1056.1 153.6 L1056.5 153.3 L1057.5 153.6 L1057.9 153.8 L1058.3 153.5 L1058.6 153.2 L1059.0 153.8 L1060.0 153.3 L1060.4 154.0 L1060.7 153.8 L1061.1 153.8 L1061.4 153.4 L1062.5 153.2 L1062.8 153.4 L1063.2 153.7 L1063.5 153.3 L1063.9 153.7 L1064.9 153.8 L1065.3 153.2 L1065.6 153.5 L1066.0 153.4" stroke="#800000"/>
<path d="M217.1 415.9 L217.4 415.5 L217.8 417.6 L218.1 422.4 L219.2 422.0 L219.5 421.8 L219.9 422.2 L220.2 425.1 L220.6 425.8 L221.7 430.6 L222.0 428.0 L222.4 426.6 L222.7 426.2 L223.1 423.3 L224.1 423.0 L224.5 425.9 L224.8 426.1 L225.2 428.5 L225.5 427.0 L226.6 423.5 L226.9 428.5 L227.3 429.1 L227.6 426.3 L228.0 426.6 L229.1 431.2 L229.4 430.6 L229.8 431.2 L230.1 429.8 L230.5 429.9 L231.5 426.4 L231.9 426.4 L232.2 427.3 L232.6 428.8 L232.9 427.8 L234.0 423.9 L234.3 425.8 L234.7 428.0 L235.0 424.9 L235.4 427.5 L236.5 429.3 L236.8 427.9 L237.2 429.9 L237.5 429.6 L237.9 430.1 L238.9 428.1 L239.3 427.7 L239.6 430.8 L240.0 430.2 L240.3 428.5 L241.4 428.8 L241.7 428.3 L242.1 430.5 L242.4 413.7 L242.8 410.6 L243.8 412.5 L244.2 410.5 L244.6 409.9 L244.9 415.0 L245.3 407.5 L246.3 407.3 L246.7 412.6 L247.0 407.0 L247.4 403.1 L247.7 391.9 L248.8 406.7 L249.1 410.6 L249.5 409.7 L249.8 413.6 L250.2 407.6 L251.2 413.3 L251.6 412.4 L252.0 410.6 L252.3 412.5 L252.7 407.4 L253.7 412.6 L254.1 411.7 L254.4 408.5 L254.8 410.4 L255.1 406.5 L256.2 408.2 L256.5 407.3 L256.9 410.4 L257.2 407.2 L257.6 406.9 L258.6 412.1 L259.0 408.7 L259.3 411.0 L259.7 407.8 L260.1 408.0 L261.1 406.3 L261.5 410.6 L261.8 408.6 L262.2 405.9 L262.5 405.0 L263.6 407.2 L263.9 411.3 L264.3 407.5 L264.6 410.8 L265.0 408.2 L266.0 405.3 L266.4 408.7 L266.7 403.6 L267.1 405.0 L267.4 407.3 L268.5 410.6 L268.9 408.2 L269.2 405.1 L269.6 405.8 L269.9 409.1 L271.0 410.2 L271.3 409.1 L271.7 404.6 L272.0 408.2 L272.4 406.4 L273.4 407.4 L273.8 405.0 L274.1 406.7 L274.5 408.0 L274.8 404.2 L275.9 406.8 L276.3 405.6 L276.6 404.7 L277.0 403.6 L277.3 408.4 L278.4 407.0 L278.7 407.9 L279.1 406.3 L279.4 385.3 L279.8 385.0 L280.8 387.3 L281.2 387.6 L281.5 386.1 L281.9 386.3 L282.2 386.8 L283.3 386.2 L283.7 386.5 L284.0 384.6 L284.4 385.1 L284.7 384.1 L285.8 384.2 L286.1 384.8 L286.5 383.7 L286.8 383.9 L287.2 382.5 L288.2 385.0 L288.6 387.1 L288.9 386.5 L289.3 385.8 L289.6 385.3 L290.7 383.3 L291.1 383.6 L291.4 383.6 L291.8 384.3 L292.1 382.9 L293.2 383.0 L293.5 383.8 L293.9 383.0 L294.2 382.0 L294.6 384.2 L295.6 383.1 L296.0 381.5 L296.3 382.8 L296.7 383.3 L297.0 383.3 L298.1 382.3 L298.4 382.0 L298.8 382.6 L299.2 382.1 L299.5 381.9 L300.6 384.0 L300.9 383.2 L301.3 383.0 L301.6 382.4 L302.0 382.2 L303.0 382.7 L303.4 383.0 L303.7 378.2 L304.1 374.0 L304.4 382.8 L305.5 382.0 L305.8 381.7 L306.2 382.2 L306.5 382.8 L306.9 381.3 L308.0 380.2 L308.3 380.5 L308.7 380.1 L309.0 365.0 L309.4 367.9 L310.4 365.3 L310.8 360.0 L311.1 364.6 L311.5 365.6 L311.8 369.0 L312.9 315.8 L313.2 364.8 L313.6 302.9 L313.9 341.4 L314.3 362.8 L315.4 363.3 L315.7 364.7 L316.1 362.7 L316.4 366.0 L316.8 360.4 L317.8 362.3 L318.2 364.2 L318.5 364.8 L318.9 366.7 L319.2 368.9 L320.3 366.3 L320.6 366.9 L321.0 367.3 L321.3 362.8 L321.7 367.1 L322.8 360.3 L323.1 366.6 L323.5 360.7 L323.8 353.0 L324.2 364.0 L325.2 362.7 L325.6 365.4 L325.9 361.7 L326.3 364.5 L326.6 367.8 L327.7 366.7 L328.0 362.8 L328.4 363.9 L328.7 365.9 L329.1 367.8 L330.2 363.9 L330.5 367.3 L330.9 362.1 L331.2 366.8 L331.6 366.5 L332.6 367.0 L333.0 364.6 L333.3 363.9 L333.7 353.0 L334.0 366.7 L335.1 366.6 L335.4 362.6 L335.8 365.6 L336.1 360.4 L336.5 365.7 L337.5 361.3 L337.9 367.9 L338.3 363.1 L338.6 365.6 L339.0 366.9 L340.0 369.4 L340.4 368.4 L340.7 363.6 L341.1 366.4 L341.4 365.5 L342.5 365.7 L342.8 361.0 L343.2 368.2 L343.5 367.4 L343.9 347.0 L344.9 365.4 L345.3 364.4 L345.6 361.1 L346.0 365.2 L346.4 363.6 L347.4 365.0 L347.8 364.7 L348.1 362.2 L348.5 364.4 L348.8 367.2 L349.9 363.8 L350.2 365.5 L350.6 362.2 L350.9 359.6 L351.3 363.0 L352.3 361.3 L352.7 365.6 L353.0 361.5 L353.4 364.8 L353.8 360.5 L354.8 362.4 L355.2 337.2 L355.5 361.2 L355.9 361.2 L356.2 361.9 L357.3 366.5 L357.6 360.8 L358.0 368.1 L358.3 363.9 L358.7 362.0 L359.7 363.2 L360.1 367.0 L360.4 367.2 L360.8 361.5 L361.1 362.1 L362.2 368.1 L362.6 362.4 L362.9 367.7 L363.3 366.2 L363.6 369.6 L364.7 361.7 L365.0 362.4 L365.4 365.1 L365.7 365.4 L366.1 358.6 L367.1 362.9 L367.5 367.5 L367.8 364.8 L368.2 366.0 L368.5 361.7 L369.6 363.8 L370.0 367.9 L370.3 370.6 L370.7 364.3 L371.0 363.3 L372.1 369.2 L372.4 364.3 L372.8 364.8 L373.1 361.4 L373.5 363.4 L374.5 366.4 L374.9 361.5 L375.2 365.7 L375.6 367.2 L375.9 367.9 L377.0 358.6 L377.4 362.7 L377.7 350.5 L378.1 367.0 L378.4 362.5 L379.5 367.8 L379.8 365.5 L380.2 363.6 L380.5 362.8 L380.9 361.8 L381.9 363.2 L382.3 359.6 L382.6 362.2 L383.0 364.8 L383.3 365.5 L384.4 363.3 L384.7 364.7 L385.1 363.4 L385.5 363.3 L385.8 361.6 L386.9 363.3 L387.2 364.5 L387.6 353.8 L387.9 386.0 L388.3 386.3 L389.3 386.6 L389.7 383.4 L390.0 389.1 L390.4 389.8 L390.7 383.2 L391.8 387.1 L392.1 385.4 L392.5 383.4 L392.9 382.7 L393.2 382.9 L394.3 391.4 L394.6 387.8 L395.0 383.1 L395.3 383.2 L395.7 391.1 L396.7 392.2 L397.1 391.1 L397.4 392.6 L397.8 390.0 L398.1 385.4 L399.2 387.8 L399.5 388.2 L399.9 392.3 L400.2 389.4 L400.6 383.6 L401.7 383.8 L402.0 386.5 L402.4 386.4 L402.7 383.3 L403.1 383.4 L404.1 364.5 L404.5 123.2 L404.8 354.3 L405.2 405.6 L405.5 414.2 L406.6 413.0 L406.9 413.4 L407.3 412.0 L407.6 414.7 L408.0 411.8 L409.1 371.4 L409.4 414.7 L409.8 413.7 L410.1 408.4 L410.5 412.3 L411.5 410.5 L411.9 411.5 L412.2 405.5 L412.6 413.6 L412.9 408.5 L414.0 407.4 L414.3 401.3 L414.7 397.9 L415.0 408.4 L415.4 410.2 L416.5 410.8 L416.8 414.8 L417.2 411.4 L417.5 412.9 L417.9 408.4 L418.9 411.4 L419.3 410.8 L419.6 408.8 L420.0 421.9 L420.3 426.2 L421.4 437.3 L421.7 437.3 L422.1 437.3 L422.4 438.1 L422.8 438.1 L423.8 437.3 L424.2 437.3 L424.6 438.1 L424.9 438.1 L425.3 438.1 L426.3 438.1 L426.7 438.1 L427.0 438.1 L427.4 438.1 L427.7 439.0 L428.8 438.1 L429.1 436.4 L429.5 435.6 L429.8 434.7 L430.2 433.9 L431.2 437.3 L431.6 439.0 L432.0 439.0 L432.3 439.0 L432.7 439.0 L433.7 437.3 L434.1 436.4 L434.4 436.4 L434.8 436.4 L435.1 435.6 L436.2 439.9 L436.5 440.7 L436.9 440.7 L437.2 439.9 L437.6 439.9 L438.6 441.6 L439.0 440.7 L439.3 440.7 L439.7 439.9 L440.1 439.9 L441.1 439.9 L441.5 439.9 L441.8 439.9 L442.2 439.9 L442.5 439.9 L443.6 440.7 L443.9 440.7 L444.3 440.7 L444.6 439.9 L445.0 439.9 L446.0 439.9 L446.4 439.9 L446.7 439.9 L447.1 439.9 L447.4 439.9 L448.5 439.0 L448.9 439.9 L449.2 439.9 L449.6 439.9 L449.9 439.9 L451.0 439.0 L451.3 439.0 L451.7 438.1 L452.0 438.1 L452.4 438.1 L453.4 438.1 L453.8 438.1 L454.1 438.1 L454.5 437.3 L454.8 437.3 L455.9 437.3 L456.3 436.4 L456.6 436.4 L457.0 436.4 L457.3 437.3 L458.4 436.4 L458.7 436.4 L459.1 436.4 L459.4 436.4 L459.8 435.6 L460.8 437.3 L461.2 437.3 L461.5 436.4 L461.9 435.6 L462.2 436.4 L463.3 437.3 L463.7 437.3 L464.0 468.1 L464.4 469.6 L464.7 471.2 L465.8 475.8 L466.1 472.8 L466.5 469.8 L466.8 474.5 L467.2 479.2 L468.2 550.2 L468.6 526.3 L468.9 563.9 L469.3 569.1 L469.6 569.5 L470.7 570.8 L471.1 571.2 L471.4 571.6 L471.8 571.6 L472.1 571.6 L473.2 571.6 L473.5 571.6 L473.9 571.6 L474.2 571.6 L474.6 571.6 L475.6 571.6 L476.0 571.6 L476.3 571.6 L476.7 571.6 L477.0 571.6 L478.1 569.1 L478.4 569.9 L478.8 570.8 L479.2 571.6 L479.5 571.6 L480.6 571.4 L480.9 571.3 L481.3 571.3 L481.6 571.2 L482.0 571.2 L483.0 571.0 L483.4 570.9 L483.7 570.8 L484.1 570.8 L484.4 570.4 L485.5 569.1 L485.8 569.6 L486.2 570.1 L486.5 570.7 L486.9 571.2 L488.0 571.0 L488.3 570.9 L488.7 570.9 L489.0 570.8 L489.4 570.7 L490.4 570.5 L490.8 570.5 L491.1 570.4 L491.5 570.3 L491.8 570.3 L492.9 570.1 L493.2 570.0 L493.6 569.9 L493.9 569.7 L494.3 569.6 L495.4 569.0 L495.7 568.8 L496.1 568.6 L496.4 568.4 L496.8 568.2 L497.8 567.4 L498.2 566.5 L498.5 566.5 L498.9 565.7 L499.2 566.5 L500.3 566.5 L500.6 566.5 L501.0 566.5 L501.3 565.7 L501.7 565.7 L502.8 564.8 L503.1 564.8 L503.5 564.8 L503.8 564.8 L504.2 565.7 L505.2 563.1 L505.6 563.9 L505.9 563.9 L506.3 563.9 L506.6 563.9 L507.7 563.9 L508.0 563.1 L508.4 562.2 L508.7 562.2 L509.1 562.2 L510.2 561.4 L510.5 561.4 L510.9 562.2 L511.2 562.2 L511.6 563.1 L512.6 563.9 L513.0 563.1 L513.3 563.1 L513.7 562.2 L514.0 563.1 L515.1 563.9 L515.4 563.9 L515.8 563.1 L516.1 563.1 L516.5 563.1 L517.5 563.9 L517.9 564.8 L518.3 564.8 L518.6 564.8 L519.0 564.8 L520.0 565.7 L520.4 565.7 L520.7 565.7 L521.1 565.7 L521.4 565.7 L522.5 564.8 L522.8 564.8 L523.2 564.8 L523.5 564.8 L523.9 565.7 L524.9 564.8 L525.3 564.8 L525.6 565.7 L526.0 565.7 L526.4 566.5 L527.4 564.8 L527.8 564.8 L528.1 564.8 L528.5 565.7 L528.8 564.8 L529.9 564.8 L530.2 564.8 L530.6 565.7 L530.9 565.7 L531.3 565.7 L532.3 564.8 L532.7 564.8 L533.0 564.8 L533.4 564.8 L533.8 564.8 L534.8 563.9 L535.2 564.8 L535.5 565.7 L535.9 566.5 L536.2 565.7 L537.3 564.8 L537.6 564.8 L538.0 564.8 L538.3 564.8 L538.7 565.7 L539.7 564.8 L540.1 564.8 L540.4 564.8 L540.8 564.8 L541.1 564.8 L542.2 564.8 L542.6 564.8 L542.9 564.8 L543.3 564.8 L543.6 563.9 L544.7 563.9 L545.0 563.9 L545.4 563.9 L545.7 564.8 L546.1 564.8 L547.1 563.9 L547.5 563.1 L547.8 563.9 L548.2 563.9 L548.5 563.9 L549.6 564.8 L550.0 564.8 L550.3 564.8 L550.7 564.8 L551.0 563.9 L552.1 563.9 L552.4 563.9 L552.8 563.9 L553.1 563.9 L553.5 563.9 L554.5 564.8 L554.9 564.8 L555.2 565.7 L555.6 566.5 L555.9 566.5 L557.0 564.8 L557.4 565.7 L557.7 565.7 L558.1 566.5 L558.4 566.5 L559.5 566.5 L559.8 566.5 L560.2 566.5 L560.5 566.5 L560.9 566.5 L561.9 566.5 L562.3 566.5 L562.6 565.7 L563.0 565.7 L563.3 565.7 L564.4 565.7 L564.7 565.7 L565.1 565.7 L565.5 565.7 L565.8 565.7 L566.9 564.8 L567.2 565.7 L567.6 565.7 L567.9 565.7 L568.3 565.7 L569.3 564.8 L569.7 563.9 L570.0 563.9 L570.4 564.8 L570.7 564.8 L571.8 565.7 L572.1 565.7 L572.5 564.8 L572.9 563.9 L573.2 563.9 L574.3 565.7 L574.6 565.7 L575.0 565.7 L575.3 565.7 L575.7 565.7 L576.7 565.7 L577.1 565.7 L577.4 565.7 L577.8 566.5 L578.1 567.4 L579.2 568.2 L579.5 568.2 L579.9 568.2 L580.2 567.4 L580.6 568.2 L581.7 568.2 L582.0 567.4 L582.4 567.4 L582.7 567.4 L583.1 568.2 L584.1 568.2 L584.5 567.4 L584.8 568.2 L585.2 568.2 L585.5 569.1 L586.6 567.4 L586.9 568.2 L587.3 569.1 L587.6 569.9 L588.0 569.9 L589.1 569.9 L589.4 569.9 L589.8 569.9 L590.1 569.9 L590.5 570.8 L591.5 571.6 L591.9 571.6 L592.2 571.6 L592.6 571.6 L592.9 571.6 L594.0 571.6 L594.3 571.6 L594.7 571.6 L595.0 571.6 L595.4 571.6 L596.5 571.6 L596.8 571.6 L597.2 571.6 L597.5 571.6 L597.9 571.6 L598.9 571.6 L599.3 571.6 L599.6 571.6 L600.0 571.6 L600.3 571.6 L601.4 571.6 L601.7 571.6 L602.1 571.6 L602.4 571.6 L602.8 571.6 L603.8 571.6 L604.2 571.6 L604.6 571.6 L604.9 571.6 L605.3 571.6 L606.3 571.6 L606.7 571.6 L607.0 571.6 L607.4 571.6 L607.7 571.6 L608.8 571.6 L609.1 571.6 L609.5 571.6 L609.8 571.6 L610.2 571.6 L611.2 571.6 L611.6 571.6 L612.0 571.6 L612.3 571.6 L612.7 571.6 L613.7 571.6 L614.1 571.6 L614.4 571.6 L614.8 571.6 L615.1 571.6 L616.2 571.6 L616.5 571.6 L616.9 571.6 L617.2 571.6 L617.6 571.6 L618.6 571.6 L619.0 571.6 L619.3 571.6 L619.7 571.6 L620.1 571.6 L621.1 571.6 L621.5 571.6 L621.8 571.6 L622.2 571.6 L622.5 571.6 L623.6 571.6 L623.9 571.6 L624.3 571.6 L624.6 571.6 L625.0 571.6 L626.0 571.6 L626.4 571.6 L626.7 571.6 L627.1 571.6 L627.4 571.6 L628.5 571.6 L628.9 571.6 L629.2 571.6 L629.6 568.2 L629.9 568.2 L631.0 568.2 L631.3 568.2 L631.7 568.2 L632.0 568.2 L632.4 568.2 L633.4 568.2 L633.8 568.2 L634.1 568.2 L634.5 568.2 L634.8 568.2 L635.9 568.2 L636.3 568.2 L636.6 568.2 L637.0 568.2 L637.3 568.2 L638.4 568.2 L638.7 568.2 L639.1 568.2 L639.4 568.2 L639.8 568.2 L640.8 568.2 L641.2 568.2 L641.5 568.2 L641.9 568.2 L642.2 568.2 L643.3 568.2 L643.7 568.2 L644.0 568.2 L644.4 568.2 L644.7 568.2 L645.8 568.2 L646.1 568.2 L646.5 568.2 L646.8 568.2 L647.2 568.2 L648.2 568.2 L648.6 568.2 L648.9 568.2 L649.3 568.2 L649.6 568.2 L650.7 568.2 L651.1 568.2 L651.4 568.2 L651.8 568.2 L652.1 568.2 L653.2 568.2 L653.5 568.2 L653.9 568.2 L654.2 568.2 L654.6 568.2 L655.6 568.2 L656.0 568.2 L656.3 568.2 L656.7 568.2 L657.0 568.2 L658.1 568.2 L658.4 568.2 L658.8 568.2 L659.2 568.2 L659.5 568.2 L660.6 568.2 L660.9 568.2 L661.3 568.2 L661.6 568.2 L662.0 568.2 L663.0 568.2 L663.4 568.2 L663.7 568.2 L664.1 568.2 L664.4 568.2 L665.5 568.2 L665.8 568.2 L666.2 568.2 L666.5 568.2 L666.9 568.2 L668.0 568.2 L668.3 568.2 L668.7 568.2 L669.0 568.2 L669.4 568.2 L670.4 568.2 L670.8 568.2 L671.1 568.2 L671.5 568.2 L671.8 568.2 L672.9 568.2 L673.2 568.2 L673.6 568.2 L673.9 568.2 L674.3 568.2 L675.4 568.2 L675.7 568.2 L676.1 568.2 L676.4 568.2 L676.8 568.2 L677.8 568.2 L678.2 568.2 L678.5 568.2 L678.9 568.2 L679.2 568.2 L680.3 568.2 L680.6 568.2 L681.0 568.2 L681.3 568.2 L681.7 568.2 L682.8 568.2 L683.1 568.2 L683.5 568.2 L683.8 568.2 L684.2 568.2 L685.2 568.2 L685.6 568.2 L685.9 568.2 L686.3 568.2 L686.6 568.2 L687.7 568.2 L688.0 568.2 L688.4 568.2 L688.7 568.2 L689.1 568.2 L690.2 568.2 L690.5 568.2 L690.9 568.2 L691.2 568.2 L691.6 568.2 L692.6 568.2 L693.0 568.2 L693.3 568.2 L693.7 568.2 L694.0 568.2 L695.1 568.2 L695.4 568.2 L695.8 568.2 L696.1 568.2 L696.5 568.2 L697.5 568.2 L697.9 568.2 L698.3 568.2 L698.6 568.2 L699.0 568.2 L700.0 568.2 L700.4 568.2 L700.7 568.2 L701.1 568.2 L701.4 568.2 L702.5 568.2 L702.8 568.2 L703.2 568.2 L703.5 568.2 L703.9 568.2 L704.9 568.2 L705.3 568.2 L705.6 568.2 L706.0 568.2 L706.4 568.2 L707.4 568.2 L707.8 568.2 L708.1 568.2 L708.5 568.2 L708.8 568.2 L709.9 568.2 L710.2 568.2 L710.6 568.2 L710.9 568.2 L711.3 568.2 L712.3 568.2 L712.7 568.2 L713.0 568.2 L713.4 568.2 L713.8 568.2 L714.8 568.2 L715.2 568.2 L715.5 568.2 L715.9 568.2 L716.2 568.2 L717.3 568.2 L717.6 568.2 L718.0 568.2 L718.3 568.2 L718.7 568.2 L719.7 568.2 L720.1 568.2 L720.4 568.2 L720.8 568.2 L721.1 568.2 L722.2 568.2 L722.6 568.2 L722.9 568.2 L723.3 568.2 L723.6 568.2 L724.7 568.2 L725.0 568.2 L725.4 568.2 L725.7 546.8 L726.1 547.0 L727.1 547.7 L727.5 547.9 L727.8 548.1 L728.2 548.3 L728.5 548.5 L729.6 548.5 L730.0 548.5 L730.3 548.5 L730.7 548.5 L731.0 548.5 L732.1 548.5 L732.4 548.5 L732.8 548.5 L733.1 548.5 L733.5 548.5 L734.5 548.5 L734.9 548.5 L735.2 548.5 L735.6 548.5 L735.9 548.5 L737.0 548.5 L737.4 548.8 L737.7 549.0 L738.1 549.3 L738.4 549.5 L739.5 550.2 L739.8 549.8 L740.2 549.4 L740.5 549.0 L740.9 548.5 L741.9 547.5 L742.3 547.2 L742.6 546.8 L743.0 504.9 L743.3 504.8 L744.4 504.6 L744.7 504.5 L745.1 504.4 L745.5 504.3 L745.8 504.3 L746.9 504.0 L747.2 504.2 L747.6 504.4 L747.9 504.6 L748.3 504.8 L749.3 505.4 L749.7 505.6 L750.0 505.7 L750.4 505.6 L750.7 505.5 L751.8 505.1 L752.1 505.0 L752.5 504.9 L752.9 505.1 L753.2 505.3 L754.3 505.8 L754.6 506.0 L755.0 506.2 L755.3 507.2 L755.7 508.3 L756.7 511.5 L757.1 512.6 L757.4 513.4 L757.8 447.6 L758.1 446.7 L759.2 444.1 L759.5 443.3 L759.9 442.4 L760.2 441.6 L760.6 440.7 L761.7 441.4 L762.0 441.7 L762.4 441.9 L762.7 442.2 L763.1 442.4 L764.1 441.7 L764.5 441.4 L764.8 441.2 L765.2 441.0 L765.5 440.7 L766.6 441.0 L766.9 441.0 L767.3 441.1 L767.6 441.2 L768.0 441.3 L769.1 441.6 L769.4 441.6 L769.8 441.6 L770.1 441.6 L770.5 441.6 L771.5 441.6 L771.9 441.6 L772.2 441.6 L772.6 376.5 L772.9 376.5 L774.0 376.5 L774.3 376.5 L774.7 376.5 L775.0 376.5 L775.4 376.5 L776.5 376.5 L776.8 376.5 L777.2 376.5 L777.5 376.5 L777.9 376.5 L778.9 376.5 L779.3 376.9 L779.6 377.4 L780.0 377.8 L780.3 378.2 L781.4 377.5 L781.7 377.2 L782.1 376.9 L782.4 376.7 L782.8 376.4 L783.8 375.7 L784.2 375.9 L784.6 376.1 L784.9 376.4 L785.3 376.6 L786.3 377.3 L786.7 377.5 L787.0 377.8 L787.4 378.0 L787.7 378.2 L788.8 377.6 L789.1 377.4 L789.5 377.7 L789.8 378.0 L790.2 378.3 L791.2 379.3 L791.6 379.6 L792.0 379.9 L792.3 317.5 L792.7 316.8 L793.7 314.7 L794.1 314.0 L794.4 313.3 L794.8 312.6 L795.1 311.9 L796.2 312.0 L796.5 312.1 L796.9 312.1 L797.2 312.1 L797.6 312.2 L798.6 312.3 L799.0 312.3 L799.3 312.3 L799.7 312.7 L800.1 313.0 L801.1 313.9 L801.5 314.3 L801.8 314.6 L802.2 314.9 L802.5 314.6 L803.6 313.9 L803.9 313.6 L804.3 313.3 L804.6 313.1 L805.0 312.8 L806.0 312.0 L806.4 311.7 L806.7 311.5 L807.1 249.2 L807.4 248.6 L808.5 249.1 L808.9 248.3 L809.2 247.6 L809.6 246.8 L809.9 246.3 L811.0 246.2 L811.3 246.3 L811.7 246.5 L812.0 246.7 L812.4 246.7 L813.4 247.5 L813.8 247.7 L814.1 247.9 L814.5 247.0 L814.8 246.1 L815.9 246.7 L816.3 247.5 L816.6 247.1 L817.0 246.6 L817.3 246.5 L818.4 246.9 L818.7 246.3 L819.1 245.8 L819.4 246.5 L819.8 247.2 L820.8 246.7 L821.2 246.4 L821.5 246.7 L821.9 203.6 L822.2 203.4 L823.3 204.1 L823.7 203.8 L824.0 203.5 L824.4 203.2 L824.7 203.2 L825.8 203.6 L826.1 203.8 L826.5 204.1 L826.8 203.9 L827.2 203.7 L828.2 203.4 L828.6 203.3 L828.9 203.4 L829.3 203.5 L829.6 203.5 L830.7 203.7 L831.1 203.9 L831.4 204.0 L831.8 204.2 L832.1 204.1 L833.2 204.0 L833.5 203.9 L833.9 203.8 L834.2 203.8 L834.6 203.7 L835.6 203.6 L836.0 203.7 L836.3 203.8 L836.7 203.9 L837.0 204.0 L838.1 203.9 L838.4 203.8 L838.8 203.6 L839.2 182.3 L839.5 182.3 L840.6 182.3 L840.9 182.3 L841.3 182.3 L841.6 182.3 L842.0 182.3 L843.0 182.3 L843.4 182.3 L843.7 182.3 L844.1 182.3 L844.4 182.3 L845.5 182.3 L845.8 182.3 L846.2 182.3 L846.5 182.3 L846.9 182.3 L848.0 182.3 L848.3 182.3 L848.7 182.3 L849.0 182.3 L849.4 182.3 L850.4 182.3 L850.8 182.3 L851.1 182.3 L851.5 182.3 L851.8 182.3 L852.9 182.3 L853.2 182.3 L853.6 181.0 L853.9 181.0 L854.3 181.0 L855.4 181.0 L855.7 181.0 L856.1 181.0 L856.4 155.6 L856.8 155.9 L857.8 156.9 L858.2 157.2 L858.5 157.7 L858.9 158.2 L859.2 158.8 L860.3 159.3 L860.6 159.5 L861.0 159.8 L861.3 160.1 L861.7 160.2 L862.8 160.5 L863.1 160.4 L863.5 160.3 L863.8 160.5 L864.2 160.6 L865.2 160.4 L865.6 160.2 L865.9 160.2 L866.3 160.2 L866.6 160.1 L867.7 160.7 L868.0 160.7 L868.4 160.7 L868.7 160.7 L869.1 160.7 L870.1 160.6 L870.5 160.6 L870.9 160.6 L871.2 138.4 L871.6 138.5 L872.6 137.8 L873.0 137.5 L873.3 137.7 L873.7 137.9 L874.0 138.1 L875.1 139.7 L875.4 139.0 L875.8 138.2 L876.1 137.4 L876.5 138.0 L877.5 139.4 L877.9 139.5 L878.3 139.5 L878.6 139.3 L879.0 139.1 L880.0 138.9 L880.4 138.8 L880.7 138.8 L881.1 138.7 L881.4 138.6 L882.5 138.3 L882.8 138.6 L883.2 139.0 L883.5 139.3 L883.9 139.5 L884.9 139.2 L885.3 138.6 L885.6 138.0 L886.0 138.0 L886.4 137.9 L887.4 139.1 L887.8 139.6 L888.1 139.2 L888.5 138.7 L888.8 138.2 L889.9 138.9 L890.2 138.8 L890.6 138.6 L890.9 138.5 L891.3 139.0 L892.3 139.3 L892.7 138.7 L893.0 138.2 L893.4 138.2 L893.8 138.3 L894.8 137.8 L895.2 137.5 L895.5 137.5 L895.9 137.5 L896.2 137.6 L897.3 138.7 L897.6 138.7 L898.0 138.8 L898.3 138.8 L898.7 138.6 L899.7 138.3 L900.1 138.4 L900.4 138.5 L900.8 117.4 L901.1 117.8 L902.2 117.5 L902.6 117.1 L902.9 117.5 L903.3 117.8 L903.6 118.1 L904.7 118.2 L905.0 118.0 L905.4 117.9 L905.7 117.8 L906.1 117.9 L907.1 117.8 L907.5 117.5 L907.8 117.2 L908.2 117.3 L908.5 117.5 L909.6 117.2 L910.0 117.0 L910.3 117.1 L910.7 117.1 L911.0 117.2 L912.1 118.2 L912.4 117.9 L912.8 117.6 L913.1 117.3 L913.5 117.6 L914.5 117.9 L914.9 117.4 L915.2 117.0 L915.6 117.2 L915.9 117.4 L917.0 117.6 L917.4 117.7 L917.7 117.8 L918.1 117.9 L918.4 118.1 L919.5 117.9 L919.8 117.6 L920.2 117.3 L920.5 117.0 L920.9 117.3 L921.9 117.8 L922.3 117.6 L922.6 117.3 L923.0 117.3 L923.3 117.2 L924.4 115.9 L924.7 117.3 L925.1 117.2 L925.5 117.1 L925.8 117.0 L926.9 117.3 L927.2 117.2 L927.6 117.2 L927.9 117.1 L928.3 117.2 L929.3 117.2 L929.7 117.1 L930.0 117.0 L930.4 117.3 L930.7 117.6 L931.8 117.4 L932.1 117.1 L932.5 117.4 L932.9 117.6 L933.2 117.9 L934.3 115.5 L934.6 113.8 L935.0 117.1 L935.3 117.0 L935.7 117.1 L936.7 117.4 L937.1 117.6 L937.4 117.7 L937.8 117.5 L938.1 117.4 L939.2 117.4 L939.5 117.4 L939.9 117.7 L940.2 117.9 L940.6 118.2 L941.7 117.4 L942.0 117.6 L942.4 117.8 L942.7 118.0 L943.1 118.0 L944.1 118.0 L944.5 118.0 L944.8 118.1 L945.2 116.4 L945.5 111.7 L946.6 112.9 L946.9 117.4 L947.3 117.5 L947.6 117.6 L948.0 117.6 L949.1 118.3 L949.4 118.2 L949.8 118.1 L950.1 117.9 L950.5 118.1 L951.5 117.9 L951.9 117.6 L952.2 117.2 L952.6 117.5 L952.9 117.8 L954.0 117.7 L954.3 117.4 L954.7 117.5 L955.0 110.8 L955.4 112.1 L956.5 118.1 L956.8 111.2 L957.2 117.8 L957.5 117.6 L957.9 117.8 L958.9 118.2 L959.3 118.2 L959.6 118.2 L960.0 118.0 L960.3 117.7 L961.4 117.2 L961.7 117.0 L962.1 117.4 L962.4 117.8 L962.8 118.2 L963.8 117.4 L964.2 117.4 L964.6 117.4 L964.9 117.4 L965.3 117.6 L966.3 117.9 L966.7 117.9 L967.0 117.9 L967.4 118.0 L967.7 118.1 L968.8 117.9 L969.1 117.7 L969.5 117.7 L969.8 117.7 L970.2 117.7 L971.2 117.5 L971.6 117.6 L972.0 117.7 L972.3 117.8 L972.7 117.7 L973.7 117.5 L974.1 117.7 L974.4 117.9 L974.8 117.9 L975.1 118.0 L976.2 118.0 L976.5 118.0 L976.9 117.9 L977.2 117.8 L977.6 117.7 L978.6 117.1 L979.0 117.5 L979.3 117.9 L979.7 118.3 L980.1 117.9 L981.1 117.3 L981.5 117.7 L981.8 118.0 L982.2 117.9 L982.5 117.9 L983.6 118.1 L983.9 118.2 L984.3 117.8 L984.6 117.4 L985.0 117.1 L986.0 117.8 L986.4 117.9 L986.7 117.9 L987.1 115.1 L987.4 117.7 L988.5 117.3 L988.9 117.3 L989.2 117.2 L989.6 117.5 L989.9 117.7 L991.0 117.6 L991.3 117.4 L991.7 117.6 L992.0 117.9 L992.4 118.1 L993.4 115.9 L993.8 116.5 L994.1 116.6 L994.5 116.6 L994.8 116.4 L995.9 117.4 L996.3 116.9 L996.6 117.4 L997.0 117.6 L997.3 117.2 L998.4 116.5 L998.7 116.2 L999.1 116.1 L999.4 116.9 L999.8 117.2 L1000.8 116.9 L1001.2 116.4 L1001.5 116.5 L1001.9 117.0 L1002.2 116.8 L1003.3 117.4 L1003.7 117.4 L1004.0 117.1 L1004.4 117.3 L1004.7 117.0 L1005.8 116.8 L1006.1 117.4 L1006.5 117.3 L1006.8 117.2 L1007.2 116.9 L1008.2 117.0 L1008.6 116.6 L1008.9 116.6 L1009.3 116.7 L1009.6 114.6 L1010.7 117.0 L1011.0 117.0 L1011.4 117.1 L1011.8 117.3 L1012.1 116.7 L1013.2 116.7 L1013.5 116.3 L1013.9 116.7 L1014.2 116.6 L1014.6 115.9 L1015.6 117.3 L1016.0 117.9 L1016.3 117.5 L1016.7 117.6 L1017.0 117.6 L1018.1 117.5 L1018.4 116.6 L1018.8 116.6 L1019.2 116.3 L1019.5 110.4 L1020.6 110.4 L1020.9 114.9 L1021.3 115.7 L1021.6 115.4 L1022.0 115.1 L1023.0 116.1 L1023.4 115.8 L1023.7 116.3 L1024.1 116.0 L1024.4 115.6 L1025.5 115.6 L1025.8 114.4 L1026.2 114.0 L1026.5 114.6 L1026.9 115.1 L1028.0 115.6 L1028.3 114.3 L1028.7 114.7 L1029.0 115.7 L1029.4 115.2 L1030.4 115.5 L1030.8 115.0 L1031.1 112.1 L1031.5 114.7 L1031.8 115.4 L1032.9 114.7 L1033.2 114.8 L1033.6 115.3 L1033.9 116.1 L1034.3 115.3 L1035.4 115.6 L1035.7 114.4 L1036.1 114.3 L1036.4 114.7 L1036.8 114.3 L1037.8 115.8 L1038.2 115.6 L1038.5 115.3 L1038.9 115.3 L1039.2 114.8 L1040.3 114.2 L1040.6 114.7 L1041.0 114.3 L1041.3 114.1 L1041.7 113.8 L1042.8 115.3 L1043.1 115.5 L1043.5 112.9 L1043.8 114.2 L1044.2 115.9 L1045.2 114.0 L1045.6 113.8 L1045.9 114.3 L1046.3 113.7 L1046.6 114.7 L1047.7 115.6 L1048.0 116.1 L1048.4 114.4 L1048.7 159.1 L1049.1 158.3 L1050.1 147.2 L1050.5 159.1 L1050.9 148.0 L1051.2 158.3 L1051.6 148.9 L1052.6 148.0 L1053.0 140.3 L1053.3 151.4 L1053.7 157.4 L1054.0 148.9 L1055.1 161.0 L1055.4 160.6 L1055.8 159.9 L1056.1 159.7 L1056.5 158.8 L1057.5 160.4 L1057.9 157.9 L1058.3 158.4 L1058.6 156.3 L1059.0 157.5 L1060.0 159.0 L1060.4 159.1 L1060.7 158.0 L1061.1 158.7 L1061.4 156.7 L1062.5 159.9 L1062.8 156.8 L1063.2 159.9 L1063.5 159.0 L1063.9 157.7 L1064.9 156.4 L1065.3 158.1 L1065.6 161.0 L1066.0 161.2" stroke="#000080"/>
<path d="M56.5 508.3 L56.8 508.3 L57.2 508.3 L57.5 508.3 L57.9 508.3 L58.9 508.3 L59.3 508.3 L59.6 508.3 L60.0 508.3 L60.3 508.3 L61.4 508.3 L61.7 508.3 L62.1 508.3 L62.4 508.3 L62.8 508.3 L63.8 508.3 L64.2 508.3 L64.6 508.3 L64.9 508.3 L65.3 508.3 L66.3 508.3 L66.7 508.3 L67.0 508.3 L67.4 508.3 L67.7 508.3 L68.8 508.3 L69.1 508.3 L69.5 508.3 L69.8 508.3 L70.2 508.3 L71.2 508.3 L71.6 508.3 L72.0 508.3 L72.3 508.3 L72.7 508.3 L73.7 508.3 L74.1 508.3 L74.4 508.3 L74.8 508.3 L75.1 508.3 L76.2 508.3 L76.5 508.3 L76.9 508.3 L77.2 508.3 L77.6 508.3 L78.6 508.3 L79.0 508.3 L79.3 508.3 L79.7 508.3 L80.1 508.3 L81.1 508.3 L81.5 508.3 L81.8 508.3 L82.2 486.9 L82.5 486.9 L83.6 486.9 L83.9 486.9 L84.3 486.9 L84.6 486.9 L85.0 486.9 L86.0 486.9 L86.4 486.9 L86.7 486.9 L87.1 486.9 L87.5 486.9 L88.5 486.9 L88.9 486.9 L89.2 486.9 L89.6 486.9 L89.9 486.9 L91.0 486.9 L91.3 486.9 L91.7 486.9 L92.0 486.9 L92.4 486.9 L93.4 486.9 L93.8 486.9 L94.1 486.9 L94.5 486.9 L94.8 486.9 L95.9 486.9 L96.3 486.9 L96.6 486.9 L97.0 486.9 L97.3 486.9 L98.4 486.9 L98.7 486.9 L99.1 486.9 L99.4 486.9 L99.8 486.9 L100.8 486.9 L101.2 486.9 L101.5 486.9 L101.9 486.9 L102.2 486.9 L103.3 486.9 L103.7 486.9 L104.0 486.9 L104.4 486.9 L104.7 486.9 L105.8 486.9 L106.1 486.9 L106.5 486.9 L106.8 486.9 L107.2 486.9 L108.2 486.9 L108.6 486.9 L108.9 486.9 L109.3 486.9 L109.6 486.9 L110.7 486.9 L111.1 486.9 L111.4 486.9 L111.8 486.9 L112.1 486.9 L113.2 486.9 L113.5 486.9 L113.9 486.9 L114.2 465.5 L114.6 465.5 L115.6 465.5 L116.0 465.5 L116.3 465.5 L116.7 465.5 L117.0 465.5 L118.1 465.5 L118.4 465.5 L118.8 465.5 L119.2 465.5 L119.5 465.5 L120.6 465.5 L120.9 465.5 L121.3 465.5 L121.6 465.5 L122.0 465.5 L123.0 465.5 L123.4 465.5 L123.7 465.5 L124.1 465.5 L124.4 465.5 L125.5 465.5 L125.8 465.5 L126.2 465.5 L126.6 465.5 L126.9 465.5 L128.0 465.5 L128.3 465.5 L128.7 465.5 L129.0 465.5 L129.4 465.5 L130.4 465.5 L130.8 465.5 L131.1 465.5 L131.5 465.5 L131.8 465.5 L132.9 465.5 L133.2 465.5 L133.6 465.5 L133.9 465.5 L134.3 465.5 L135.4 465.5 L135.7 465.5 L136.1 465.5 L136.4 465.5 L136.8 465.5 L137.8 465.5 L138.2 465.5 L138.5 465.5 L138.9 465.5 L139.2 465.5 L140.3 465.5 L140.6 465.5 L141.0 465.5 L141.3 465.5 L141.7 465.5 L142.8 465.5 L143.1 465.5 L143.5 465.5 L143.8 465.5 L144.2 465.5 L145.2 465.5 L145.6 465.5 L145.9 465.5 L146.3 465.5 L146.6 465.5 L147.7 465.5 L148.0 465.5 L148.4 465.5 L148.7 465.5 L149.1 465.5 L150.2 465.5 L150.5 465.5 L150.9 465.5 L151.2 465.5 L151.6 465.5 L152.6 465.5 L153.0 465.5 L153.3 465.5 L153.7 465.5 L154.0 465.5 L155.1 465.5 L155.4 465.5 L155.8 465.5 L156.1 465.5 L156.5 465.5 L157.5 465.5 L157.9 465.5 L158.3 465.5 L158.6 465.5 L159.0 465.5 L160.0 465.5 L160.4 465.5 L160.7 465.5 L161.1 465.5 L161.4 465.5 L162.5 465.5 L162.8 465.5 L163.2 465.5 L163.5 465.5 L163.9 465.5 L164.9 465.5 L165.3 465.5 L165.6 465.5 L166.0 465.5 L166.4 465.5 L167.4 465.5 L167.8 465.5 L168.1 465.5 L168.5 465.5 L168.8 465.5 L169.9 465.5 L170.2 465.5 L170.6 465.5 L170.9 465.5 L171.3 465.5 L172.3 465.5 L172.7 465.5 L173.0 465.5 L173.4 465.5 L173.8 465.5 L174.8 465.5 L175.2 465.5 L175.5 465.5 L175.9 465.5 L176.2 465.5 L177.3 465.5 L177.6 465.5 L178.0 465.5 L178.3 444.1 L178.7 444.1 L179.7 444.1 L180.1 444.1 L180.4 444.1 L180.8 444.1 L181.1 444.1 L182.2 444.1 L182.6 444.1 L182.9 444.1 L183.3 444.1 L183.6 444.1 L184.7 444.1 L185.0 444.1 L185.4 444.1 L185.7 444.1 L186.1 444.1 L187.1 444.1 L187.5 444.1 L187.8 444.1 L188.2 444.1 L188.5 444.1 L189.6 444.1 L190.0 444.1 L190.3 444.1 L190.7 444.1 L191.0 444.1 L192.1 444.1 L192.4 444.1 L192.8 444.1 L193.1 444.1 L193.5 444.1 L194.5 444.1 L194.9 444.1 L195.2 444.1 L195.6 444.1 L195.9 444.1 L197.0 444.1 L197.4 444.1 L197.7 444.1 L198.1 444.1 L198.4 444.1 L199.5 444.1 L199.8 444.1 L200.2 444.1 L200.5 444.1 L200.9 444.1 L201.9 444.1 L202.3 444.1 L202.6 444.1 L203.0 444.1 L203.3 444.1 L204.4 444.1 L204.7 444.1 L205.1 444.1 L205.5 444.1 L205.8 444.1 L206.9 444.1 L207.2 444.1 L207.6 444.1 L207.9 444.1 L208.3 444.1 L209.3 444.1 L209.7 444.1 L210.0 444.1 L210.4 444.1 L210.7 444.1 L211.8 444.1 L212.1 444.1 L212.5 444.1 L212.9 422.7 L213.2 422.7 L214.3 422.7 L214.6 422.7 L215.0 422.7 L215.3 422.7 L215.7 422.7 L216.7 422.7 L217.1 422.7 L217.4 422.7 L217.8 422.7 L218.1 422.7 L219.2 422.7 L219.5 422.7 L219.9 422.7 L220.2 422.7 L220.6 422.7 L221.7 422.7 L222.0 422.7 L222.4 422.7 L222.7 422.7 L223.1 422.7 L224.1 422.7 L224.5 422.7 L224.8 422.7 L225.2 422.7 L225.5 422.7 L226.6 422.7 L226.9 422.7 L227.3 422.7 L227.6 422.7 L228.0 422.7 L229.1 422.7 L229.4 422.7 L229.8 422.7 L230.1 422.7 L230.5 422.7 L231.5 422.7 L231.9 422.7 L232.2 422.7 L232.6 422.7 L232.9 422.7 L234.0 422.7 L234.3 422.7 L234.7 422.7 L235.0 422.7 L235.4 422.7 L236.5 422.7 L236.8 422.7 L237.2 422.7 L237.5 422.7 L237.9 422.7 L238.9 422.7 L239.3 422.7 L239.6 422.7 L240.0 422.7 L240.3 422.7 L241.4 422.7 L241.7 422.7 L242.1 422.7 L242.4 401.3 L242.8 401.3 L243.8 401.3 L244.2 401.3 L244.6 401.3 L244.9 401.3 L245.3 401.3 L246.3 401.3 L246.7 401.3 L247.0 401.3 L247.4 401.3 L247.7 401.3 L248.8 401.3 L249.1 401.3 L249.5 401.3 L249.8 401.3 L250.2 401.3 L251.2 401.3 L251.6 401.3 L252.0 401.3 L252.3 401.3 L252.7 401.3 L253.7 401.3 L254.1 401.3 L254.4 401.3 L254.8 401.3 L255.1 401.3 L256.2 401.3 L256.5 401.3 L256.9 401.3 L257.2 401.3 L257.6 401.3 L258.6 401.3 L259.0 401.3 L259.3 401.3 L259.7 401.3 L260.1 401.3 L261.1 401.3 L261.5 401.3 L261.8 401.3 L262.2 401.3 L262.5 401.3 L263.6 401.3 L263.9 401.3 L264.3 401.3 L264.6 401.3 L265.0 401.3 L266.0 401.3 L266.4 401.3 L266.7 401.3 L267.1 401.3 L267.4 401.3 L268.5 401.3 L268.9 401.3 L269.2 401.3 L269.6 401.3 L269.9 401.3 L271.0 401.3 L271.3 401.3 L271.7 401.3 L272.0 401.3 L272.4 401.3 L273.4 401.3 L273.8 401.3 L274.1 401.3 L274.5 401.3 L274.8 401.3 L275.9 401.3 L276.3 401.3 L276.6 401.3 L277.0 401.3 L277.3 401.3 L278.4 401.3 L278.7 401.3 L279.1 401.3 L279.4 379.9 L279.8 379.9 L280.8 379.9 L281.2 379.9 L281.5 379.9 L281.9 379.9 L282.2 379.9 L283.3 379.9 L283.7 379.9 L284.0 379.9 L284.4 379.9 L284.7 379.9 L285.8 379.9 L286.1 379.9 L286.5 379.9 L286.8 379.9 L287.2 379.9 L288.2 379.9 L288.6 379.9 L288.9 379.9 L289.3 379.9 L289.6 379.9 L290.7 379.9 L291.1 379.9 L291.4 379.9 L291.8 379.9 L292.1 379.9 L293.2 379.9 L293.5 379.9 L293.9 379.9 L294.2 379.9 L294.6 379.9 L295.6 379.9 L296.0 379.9 L296.3 379.9 L296.7 379.9 L297.0 379.9 L298.1 379.9 L298.4 379.9 L298.8 379.9 L299.2 379.9 L299.5 379.9 L300.6 379.9 L300.9 379.9 L301.3 379.9 L301.6 379.9 L302.0 379.9 L303.0 379.9 L303.4 379.9 L303.7 379.9 L304.1 379.9 L304.4 379.9 L305.5 379.9 L305.8 379.9 L306.2 379.9 L306.5 379.9 L306.9 379.9 L308.0 379.9 L308.3 379.9 L308.7 379.9 L309.0 358.6 L309.4 358.6 L310.4 358.6 L310.8 358.6 L311.1 358.6 L311.5 358.6 L311.8 358.6 L312.9 358.6 L313.2 358.6 L313.6 358.6 L313.9 358.6 L314.3 358.6 L315.4 358.6 L315.7 358.6 L316.1 358.6 L316.4 358.6 L316.8 358.6 L317.8 358.6 L318.2 358.6 L318.5 358.6 L318.9 358.6 L319.2 358.6 L320.3 358.6 L320.6 358.6 L321.0 358.6 L321.3 358.6 L321.7 358.6 L322.8 358.6 L323.1 358.6 L323.5 358.6 L323.8 358.6 L324.2 358.6 L325.2 358.6 L325.6 358.6 L325.9 358.6 L326.3 358.6 L326.6 358.6 L327.7 358.6 L328.0 358.6 L328.4 358.6 L328.7 358.6 L329.1 358.6 L330.2 358.6 L330.5 358.6 L330.9 358.6 L331.2 358.6 L331.6 358.6 L332.6 358.6 L333.0 358.6 L333.3 358.6 L333.7 358.6 L334.0 358.6 L335.1 358.6 L335.4 358.6 L335.8 358.6 L336.1 358.6 L336.5 358.6 L337.5 358.6 L337.9 358.6 L338.3 358.6 L338.6 358.6 L339.0 358.6 L340.0 358.6 L340.4 358.6 L340.7 358.6 L341.1 358.6 L341.4 358.6 L342.5 358.6 L342.8 358.6 L343.2 358.6 L343.5 358.6 L343.9 358.6 L344.9 358.6 L345.3 358.6 L345.6 358.6 L346.0 358.6 L346.4 358.6 L347.4 358.6 L347.8 358.6 L348.1 358.6 L348.5 358.6 L348.8 358.6 L349.9 358.6 L350.2 358.6 L350.6 358.6 L350.9 358.6 L351.3 358.6 L352.3 358.6 L352.7 358.6 L353.0 358.6 L353.4 358.6 L353.8 358.6 L354.8 358.6 L355.2 358.6 L355.5 358.6 L355.9 358.6 L356.2 358.6 L357.3 358.6 L357.6 358.6 L358.0 358.6 L358.3 358.6 L358.7 358.6 L359.7 358.6 L360.1 358.6 L360.4 358.6 L360.8 358.6 L361.1 358.6 L362.2 358.6 L362.6 358.6 L362.9 358.6 L363.3 358.6 L363.6 358.6 L364.7 358.6 L365.0 358.6 L365.4 358.6 L365.7 358.6 L366.1 358.6 L367.1 358.6 L367.5 358.6 L367.8 358.6 L368.2 358.6 L368.5 358.6 L369.6 358.6 L370.0 358.6 L370.3 358.6 L370.7 358.6 L371.0 358.6 L372.1 358.6 L372.4 358.6 L372.8 358.6 L373.1 358.6 L373.5 358.6 L374.5 358.6 L374.9 358.6 L375.2 358.6 L375.6 358.6 L375.9 358.6 L377.0 358.6 L377.4 358.6 L377.7 358.6 L378.1 358.6 L378.4 358.6 L379.5 358.6 L379.8 358.6 L380.2 358.6 L380.5 358.6 L380.9 358.6 L381.9 358.6 L382.3 358.6 L382.6 358.6 L383.0 358.6 L383.3 358.6 L384.4 358.6 L384.7 358.6 L385.1 358.6 L385.5 358.6 L385.8 358.6 L386.9 358.6 L387.2 358.6 L387.6 358.6 L387.9 379.9 L388.3 379.9 L389.3 379.9 L389.7 379.9 L390.0 379.9 L390.4 379.9 L390.7 379.9 L391.8 379.9 L392.1 379.9 L392.5 379.9 L392.9 379.9 L393.2 379.9 L394.3 379.9 L394.6 379.9 L395.0 379.9 L395.3 379.9 L395.7 379.9 L396.7 379.9 L397.1 379.9 L397.4 379.9 L397.8 379.9 L398.1 379.9 L399.2 379.9 L399.5 379.9 L399.9 379.9 L400.2 379.9 L400.6 379.9 L401.7 379.9 L402.0 379.9 L402.4 379.9 L402.7 379.9 L403.1 379.9 L404.1 379.9 L404.5 379.9 L404.8 379.9 L405.2 401.3 L405.5 401.3 L406.6 401.3 L406.9 401.3 L407.3 401.3 L407.6 401.3 L408.0 401.3 L409.1 401.3 L409.4 401.3 L409.8 401.3 L410.1 401.3 L410.5 401.3 L411.5 401.3 L411.9 401.3 L412.2 401.3 L412.6 401.3 L412.9 401.3 L414.0 401.3 L414.3 401.3 L414.7 401.3 L415.0 401.3 L415.4 401.3 L416.5 401.3 L416.8 401.3 L417.2 401.3 L417.5 401.3 L417.9 401.3 L418.9 401.3 L419.3 401.3 L419.6 401.3 L420.0 422.7 L420.3 422.7 L421.4 422.7 L421.7 422.7 L422.1 422.7 L422.4 422.7 L422.8 422.7 L423.8 422.7 L424.2 422.7 L424.6 422.7 L424.9 422.7 L425.3 422.7 L426.3 422.7 L426.7 422.7 L427.0 422.7 L427.4 422.7 L427.7 422.7 L428.8 422.7 L429.1 422.7 L429.5 422.7 L429.8 422.7 L430.2 422.7 L431.2 422.7 L431.6 422.7 L432.0 422.7 L432.3 422.7 L432.7 422.7 L433.7 422.7 L434.1 422.7 L434.4 422.7 L434.8 422.7 L435.1 422.7 L436.2 422.7 L436.5 422.7 L436.9 422.7 L437.2 422.7 L437.6 422.7 L438.6 422.7 L439.0 422.7 L439.3 422.7 L439.7 422.7 L440.1 422.7 L441.1 422.7 L441.5 422.7 L441.8 422.7 L442.2 422.7 L442.5 422.7 L443.6 422.7 L443.9 422.7 L444.3 422.7 L444.6 422.7 L445.0 422.7 L446.0 422.7 L446.4 422.7 L446.7 422.7 L447.1 422.7 L447.4 422.7 L448.5 422.7 L448.9 422.7 L449.2 422.7 L449.6 422.7 L449.9 422.7 L451.0 422.7 L451.3 422.7 L451.7 422.7 L452.0 422.7 L452.4 422.7 L453.4 422.7 L453.8 422.7 L454.1 422.7 L454.5 422.7 L454.8 422.7 L455.9 422.7 L456.3 422.7 L456.6 422.7 L457.0 422.7 L457.3 422.7 L458.4 422.7 L458.7 422.7 L459.1 422.7 L459.4 422.7 L459.8 422.7 L460.8 422.7 L461.2 422.7 L461.5 422.7 L461.9 422.7 L462.2 422.7 L463.3 422.7 L463.7 422.7 L464.0 465.5 L464.4 465.5 L464.7 465.5 L465.8 465.5 L466.1 465.5 L466.5 465.5 L466.8 465.5 L467.2 465.5 L468.2 551.1 L468.6 551.1 L468.9 551.1 L469.3 551.1 L469.6 551.1 L470.7 551.1 L471.1 551.1 L471.4 551.1 L471.8 551.1 L472.1 551.1 L473.2 551.1 L473.5 551.1 L473.9 551.1 L474.2 551.1 L474.6 551.1 L475.6 551.1 L476.0 551.1 L476.3 551.1 L476.7 551.1 L477.0 551.1 L478.1 551.1 L478.4 551.1 L478.8 551.1 L479.2 551.1 L479.5 551.1 L480.6 551.1 L480.9 551.1 L481.3 551.1 L481.6 551.1 L482.0 551.1 L483.0 551.1 L483.4 551.1 L483.7 551.1 L484.1 551.1 L484.4 551.1 L485.5 551.1 L485.8 551.1 L486.2 551.1 L486.5 551.1 L486.9 551.1 L488.0 551.1 L488.3 551.1 L488.7 551.1 L489.0 551.1 L489.4 551.1 L490.4 551.1 L490.8 551.1 L491.1 551.1 L491.5 551.1 L491.8 551.1 L492.9 551.1 L493.2 551.1 L493.6 551.1 L493.9 551.1 L494.3 551.1 L495.4 551.1 L495.7 551.1 L496.1 551.1 L496.4 551.1 L496.8 551.1 L497.8 551.1 L498.2 551.1 L498.5 551.1 L498.9 551.1 L499.2 551.1 L500.3 551.1 L500.6 551.1 L501.0 551.1 L501.3 551.1 L501.7 551.1 L502.8 551.1 L503.1 551.1 L503.5 551.1 L503.8 551.1 L504.2 551.1 L505.2 551.1 L505.6 551.1 L505.9 551.1 L506.3 551.1 L506.6 551.1 L507.7 551.1 L508.0 551.1 L508.4 551.1 L508.7 551.1 L509.1 551.1 L510.2 551.1 L510.5 551.1 L510.9 551.1 L511.2 551.1 L511.6 551.1 L512.6 551.1 L513.0 551.1 L513.3 551.1 L513.7 551.1 L514.0 551.1 L515.1 551.1 L515.4 551.1 L515.8 551.1 L516.1 551.1 L516.5 551.1 L517.5 551.1 L517.9 551.1 L518.3 551.1 L518.6 551.1 L519.0 551.1 L520.0 551.1 L520.4 551.1 L520.7 551.1 L521.1 551.1 L521.4 551.1 L522.5 551.1 L522.8 551.1 L523.2 551.1 L523.5 551.1 L523.9 551.1 L524.9 551.1 L525.3 551.1 L525.6 551.1 L526.0 551.1 L526.4 551.1 L527.4 551.1 L527.8 551.1 L528.1 551.1 L528.5 551.1 L528.8 551.1 L529.9 551.1 L530.2 551.1 L530.6 551.1 L530.9 551.1 L531.3 551.1 L532.3 551.1 L532.7 551.1 L533.0 551.1 L533.4 551.1 L533.8 551.1 L534.8 551.1 L535.2 551.1 L535.5 551.1 L535.9 551.1 L536.2 551.1 L537.3 551.1 L537.6 551.1 L538.0 551.1 L538.3 551.1 L538.7 551.1 L539.7 551.1 L540.1 551.1 L540.4 551.1 L540.8 551.1 L541.1 551.1 L542.2 551.1 L542.6 551.1 L542.9 551.1 L543.3 551.1 L543.6 551.1 L544.7 551.1 L545.0 551.1 L545.4 551.1 L545.7 551.1 L546.1 551.1 L547.1 551.1 L547.5 551.1 L547.8 551.1 L548.2 551.1 L548.5 551.1 L549.6 551.1 L550.0 551.1 L550.3 551.1 L550.7 551.1 L551.0 551.1 L552.1 551.1 L552.4 551.1 L552.8 551.1 L553.1 551.1 L553.5 551.1 L554.5 551.1 L554.9 551.1 L555.2 551.1 L555.6 551.1 L555.9 551.1 L557.0 551.1 L557.4 551.1 L557.7 551.1 L558.1 551.1 L558.4 551.1 L559.5 551.1 L559.8 551.1 L560.2 551.1 L560.5 551.1 L560.9 551.1 L561.9 551.1 L562.3 551.1 L562.6 551.1 L563.0 551.1 L563.3 551.1 L564.4 551.1 L564.7 551.1 L565.1 551.1 L565.5 551.1 L565.8 551.1 L566.9 551.1 L567.2 551.1 L567.6 551.1 L567.9 551.1 L568.3 551.1 L569.3 551.1 L569.7 551.1 L570.0 551.1 L570.4 551.1 L570.7 551.1 L571.8 551.1 L572.1 551.1 L572.5 551.1 L572.9 551.1 L573.2 551.1 L574.3 551.1 L574.6 551.1 L575.0 551.1 L575.3 551.1 L575.7 551.1 L576.7 551.1 L577.1 551.1 L577.4 551.1 L577.8 551.1 L578.1 551.1 L579.2 551.1 L579.5 551.1 L579.9 551.1 L580.2 551.1 L580.6 551.1 L581.7 551.1 L582.0 551.1 L582.4 551.1 L582.7 551.1 L583.1 551.1 L584.1 551.1 L584.5 551.1 L584.8 551.1 L585.2 551.1 L585.5 551.1 L586.6 551.1 L586.9 551.1 L587.3 551.1 L587.6 551.1 L588.0 551.1 L589.1 551.1 L589.4 551.1 L589.8 551.1 L590.1 551.1 L590.5 551.1 L591.5 551.1 L591.9 551.1 L592.2 551.1 L592.6 551.1 L592.9 551.1 L594.0 551.1 L594.3 551.1 L594.7 551.1 L595.0 551.1 L595.4 551.1 L596.5 551.1 L596.8 551.1 L597.2 551.1 L597.5 551.1 L597.9 551.1 L598.9 551.1 L599.3 551.1 L599.6 551.1 L600.0 551.1 L600.3 551.1 L601.4 551.1 L601.7 551.1 L602.1 551.1 L602.4 551.1 L602.8 551.1 L603.8 551.1 L604.2 551.1 L604.6 551.1 L604.9 551.1 L605.3 551.1 L606.3 551.1 L606.7 551.1 L607.0 551.1 L607.4 551.1 L607.7 551.1 L608.8 551.1 L609.1 551.1 L609.5 551.1 L609.8 551.1 L610.2 551.1 L611.2 551.1 L611.6 551.1 L612.0 551.1 L612.3 551.1 L612.7 551.1 L613.7 551.1 L614.1 551.1 L614.4 551.1 L614.8 551.1 L615.1 551.1 L616.2 551.1 L616.5 551.1 L616.9 551.1 L617.2 551.1 L617.6 551.1 L618.6 551.1 L619.0 551.1 L619.3 551.1 L619.7 551.1 L620.1 551.1 L621.1 551.1 L621.5 551.1 L621.8 551.1 L622.2 551.1 L622.5 551.1 L623.6 551.1 L623.9 551.1 L624.3 551.1 L624.6 551.1 L625.0 551.1 L626.0 551.1 L626.4 551.1 L626.7 551.1 L627.1 551.1 L627.4 551.1 L628.5 551.1 L628.9 551.1 L629.2 551.1 L629.6 551.1 L629.9 551.1 L631.0 551.1 L631.3 551.1 L631.7 551.1 L632.0 551.1 L632.4 551.1 L633.4 551.1 L633.8 551.1 L634.1 551.1 L634.5 551.1 L634.8 551.1 L635.9 551.1 L636.3 551.1 L636.6 551.1 L637.0 551.1 L637.3 551.1 L638.4 551.1 L638.7 551.1 L639.1 551.1 L639.4 551.1 L639.8 551.1 L640.8 551.1 L641.2 551.1 L641.5 551.1 L641.9 551.1 L642.2 551.1 L643.3 551.1 L643.7 551.1 L644.0 551.1 L644.4 551.1 L644.7 551.1 L645.8 551.1 L646.1 551.1 L646.5 551.1 L646.8 551.1 L647.2 551.1 L648.2 551.1 L648.6 551.1 L648.9 551.1 L649.3 551.1 L649.6 551.1 L650.7 551.1 L651.1 551.1 L651.4 551.1 L651.8 551.1 L652.1 551.1 L653.2 551.1 L653.5 551.1 L653.9 551.1 L654.2 551.1 L654.6 551.1 L655.6 551.1 L656.0 551.1 L656.3 551.1 L656.7 551.1 L657.0 551.1 L658.1 551.1 L658.4 551.1 L658.8 551.1 L659.2 551.1 L659.5 551.1 L660.6 551.1 L660.9 551.1 L661.3 551.1 L661.6 551.1 L662.0 551.1 L663.0 551.1 L663.4 551.1 L663.7 551.1 L664.1 551.1 L664.4 551.1 L665.5 551.1 L665.8 551.1 L666.2 551.1 L666.5 551.1 L666.9 551.1 L668.0 551.1 L668.3 551.1 L668.7 551.1 L669.0 551.1 L669.4 551.1 L670.4 551.1 L670.8 551.1 L671.1 551.1 L671.5 551.1 L671.8 551.1 L672.9 551.1 L673.2 551.1 L673.6 551.1 L673.9 551.1 L674.3 551.1 L675.4 551.1 L675.7 551.1 L676.1 551.1 L676.4 551.1 L676.8 551.1 L677.8 551.1 L678.2 551.1 L678.5 551.1 L678.9 551.1 L679.2 551.1 L680.3 551.1 L680.6 551.1 L681.0 551.1 L681.3 551.1 L681.7 551.1 L682.8 551.1 L683.1 551.1 L683.5 551.1 L683.8 551.1 L684.2 551.1 L685.2 551.1 L685.6 551.1 L685.9 551.1 L686.3 551.1 L686.6 551.1 L687.7 551.1 L688.0 551.1 L688.4 551.1 L688.7 551.1 L689.1 551.1 L690.2 551.1 L690.5 551.1 L690.9 551.1 L691.2 551.1 L691.6 551.1 L692.6 551.1 L693.0 551.1 L693.3 551.1 L693.7 551.1 L694.0 551.1 L695.1 551.1 L695.4 551.1 L695.8 551.1 L696.1 551.1 L696.5 551.1 L697.5 551.1 L697.9 551.1 L698.3 551.1 L698.6 551.1 L699.0 551.1 L700.0 551.1 L700.4 551.1 L700.7 551.1 L701.1 551.1 L701.4 551.1 L702.5 551.1 L702.8 551.1 L703.2 551.1 L703.5 551.1 L703.9 551.1 L704.9 551.1 L705.3 551.1 L705.6 551.1 L706.0 551.1 L706.4 551.1 L707.4 551.1 L707.8 551.1 L708.1 551.1 L708.5 551.1 L708.8 551.1 L709.9 551.1 L710.2 551.1 L710.6 551.1 L710.9 551.1 L711.3 551.1 L712.3 551.1 L712.7 551.1 L713.0 551.1 L713.4 551.1 L713.8 551.1 L714.8 551.1 L715.2 551.1 L715.5 551.1 L715.9 551.1 L716.2 551.1 L717.3 551.1 L717.6 551.1 L718.0 551.1 L718.3 551.1 L718.7 551.1 L719.7 551.1 L720.1 551.1 L720.4 551.1 L720.8 551.1 L721.1 551.1 L722.2 551.1 L722.6 551.1 L722.9 551.1 L723.3 551.1 L723.6 551.1 L724.7 551.1 L725.0 551.1 L725.4 551.1 L725.7 529.7 L726.1 529.7 L727.1 529.7 L727.5 529.7 L727.8 529.7 L728.2 529.7 L728.5 529.7 L729.6 529.7 L730.0 529.7 L730.3 529.7 L730.7 529.7 L731.0 529.7 L732.1 529.7 L732.4 529.7 L732.8 529.7 L733.1 529.7 L733.5 529.7 L734.5 529.7 L734.9 529.7 L735.2 529.7 L735.6 529.7 L735.9 529.7 L737.0 529.7 L737.4 529.7 L737.7 529.7 L738.1 529.7 L738.4 529.7 L739.5 529.7 L739.8 529.7 L740.2 529.7 L740.5 529.7 L740.9 529.7 L741.9 529.7 L742.3 529.7 L742.6 529.7 L743.0 486.9 L743.3 486.9 L744.4 486.9 L744.7 486.9 L745.1 486.9 L745.5 486.9 L745.8 486.9 L746.9 486.9 L747.2 486.9 L747.6 486.9 L747.9 486.9 L748.3 486.9 L749.3 486.9 L749.7 486.9 L750.0 486.9 L750.4 486.9 L750.7 486.9 L751.8 486.9 L752.1 486.9 L752.5 486.9 L752.9 486.9 L753.2 486.9 L754.3 486.9 L754.6 486.9 L755.0 486.9 L755.3 486.9 L755.7 486.9 L756.7 486.9 L757.1 486.9 L757.4 486.9 L757.8 422.7 L758.1 422.7 L759.2 422.7 L759.5 422.7 L759.9 422.7 L760.2 422.7 L760.6 422.7 L761.7 422.7 L762.0 422.7 L762.4 422.7 L762.7 422.7 L763.1 422.7 L764.1 422.7 L764.5 422.7 L764.8 422.7 L765.2 422.7 L765.5 422.7 L766.6 422.7 L766.9 422.7 L767.3 422.7 L767.6 422.7 L768.0 422.7 L769.1 422.7 L769.4 422.7 L769.8 422.7 L770.1 422.7 L770.5 422.7 L771.5 422.7 L771.9 422.7 L772.2 422.7 L772.6 358.6 L772.9 358.6 L774.0 358.6 L774.3 358.6 L774.7 358.6 L775.0 358.6 L775.4 358.6 L776.5 358.6 L776.8 358.6 L777.2 358.6 L777.5 358.6 L777.9 358.6 L778.9 358.6 L779.3 358.6 L779.6 358.6 L780.0 358.6 L780.3 358.6 L781.4 358.6 L781.7 358.6 L782.1 358.6 L782.4 358.6 L782.8 358.6 L783.8 358.6 L784.2 358.6 L784.6 358.6 L784.9 358.6 L785.3 358.6 L786.3 358.6 L786.7 358.6 L787.0 358.6 L787.4 358.6 L787.7 358.6 L788.8 358.6 L789.1 358.6 L789.5 358.6 L789.8 358.6 L790.2 358.6 L791.2 358.6 L791.6 358.6 L792.0 358.6 L792.3 294.4 L792.7 294.4 L793.7 294.4 L794.1 294.4 L794.4 294.4 L794.8 294.4 L795.1 294.4 L796.2 294.4 L796.5 294.4 L796.9 294.4 L797.2 294.4 L797.6 294.4 L798.6 294.4 L799.0 294.4 L799.3 294.4 L799.7 294.4 L800.1 294.4 L801.1 294.4 L801.5 294.4 L801.8 294.4 L802.2 294.4 L802.5 294.4 L803.6 294.4 L803.9 294.4 L804.3 294.4 L804.6 294.4 L805.0 294.4 L806.0 294.4 L806.4 294.4 L806.7 294.4 L807.1 230.2 L807.4 230.2 L808.5 230.2 L808.9 230.2 L809.2 230.2 L809.6 230.2 L809.9 230.2 L811.0 230.2 L811.3 230.2 L811.7 230.2 L812.0 230.2 L812.4 230.2 L813.4 230.2 L813.8 230.2 L814.1 230.2 L814.5 230.2 L814.8 230.2 L815.9 230.2 L816.3 230.2 L816.6 230.2 L817.0 230.2 L817.3 230.2 L818.4 230.2 L818.7 230.2 L819.1 230.2 L819.4 230.2 L819.8 230.2 L820.8 230.2 L821.2 230.2 L821.5 230.2 L821.9 187.4 L822.2 187.4 L823.3 187.4 L823.7 187.4 L824.0 187.4 L824.4 187.4 L824.7 187.4 L825.8 187.4 L826.1 187.4 L826.5 187.4 L826.8 187.4 L827.2 187.4 L828.2 187.4 L828.6 187.4 L828.9 187.4 L829.3 187.4 L829.6 187.4 L830.7 187.4 L831.1 187.4 L831.4 187.4 L831.8 187.4 L832.1 187.4 L833.2 187.4 L833.5 187.4 L833.9 187.4 L834.2 187.4 L834.6 187.4 L835.6 187.4 L836.0 187.4 L836.3 187.4 L836.7 187.4 L837.0 187.4 L838.1 187.4 L838.4 187.4 L838.8 187.4 L839.2 166.0 L839.5 166.0 L840.6 166.0 L840.9 166.0 L841.3 166.0 L841.6 166.0 L842.0 166.0 L843.0 166.0 L843.4 166.0 L843.7 166.0 L844.1 166.0 L844.4 166.0 L845.5 166.0 L845.8 166.0 L846.2 166.0 L846.5 166.0 L846.9 166.0 L848.0 166.0 L848.3 166.0 L848.7 166.0 L849.0 166.0 L849.4 166.0 L850.4 166.0 L850.8 166.0 L851.1 166.0 L851.5 166.0 L851.8 166.0 L852.9 166.0 L853.2 166.0 L853.6 166.0 L853.9 166.0 L854.3 166.0 L855.4 166.0 L855.7 166.0 L856.1 166.0 L856.4 144.6 L856.8 144.6 L857.8 144.6 L858.2 144.6 L858.5 144.6 L858.9 144.6 L859.2 144.6 L860.3 144.6 L860.6 144.6 L861.0 144.6 L861.3 144.6 L861.7 144.6 L862.8 144.6 L863.1 144.6 L863.5 144.6 L863.8 144.6 L864.2 144.6 L865.2 144.6 L865.6 144.6 L865.9 144.6 L866.3 144.6 L866.6 144.6 L867.7 144.6 L868.0 144.6 L868.4 144.6 L868.7 144.6 L869.1 144.6 L870.1 144.6 L870.5 144.6 L870.9 144.6 L871.2 123.2 L871.6 123.2 L872.6 123.2 L873.0 123.2 L873.3 123.2 L873.7 123.2 L874.0 123.2 L875.1 123.2 L875.4 123.2 L875.8 123.2 L876.1 123.2 L876.5 123.2 L877.5 123.2 L877.9 123.2 L878.3 123.2 L878.6 123.2 L879.0 123.2 L880.0 123.2 L880.4 123.2 L880.7 123.2 L881.1 123.2 L881.4 123.2 L882.5 123.2 L882.8 123.2 L883.2 123.2 L883.5 123.2 L883.9 123.2 L884.9 123.2 L885.3 123.2 L885.6 123.2 L886.0 123.2 L886.4 123.2 L887.4 123.2 L887.8 123.2 L888.1 123.2 L888.5 123.2 L888.8 123.2 L889.9 123.2 L890.2 123.2 L890.6 123.2 L890.9 123.2 L891.3 123.2 L892.3 123.2 L892.7 123.2 L893.0 123.2 L893.4 123.2 L893.8 123.2 L894.8 123.2 L895.2 123.2 L895.5 123.2 L895.9 123.2 L896.2 123.2 L897.3 123.2 L897.6 123.2 L898.0 123.2 L898.3 123.2 L898.7 123.2 L899.7 123.2 L900.1 123.2 L900.4 123.2 L900.8 101.8 L901.1 101.8 L902.2 101.8 L902.6 101.8 L902.9 101.8 L903.3 101.8 L903.6 101.8 L904.7 101.8 L905.0 101.8 L905.4 101.8 L905.7 101.8 L906.1 101.8 L907.1 101.8 L907.5 101.8 L907.8 101.8 L908.2 101.8 L908.5 101.8 L909.6 101.8 L910.0 101.8 L910.3 101.8 L910.7 101.8 L911.0 101.8 L912.1 101.8 L912.4 101.8 L912.8 101.8 L913.1 101.8 L913.5 101.8 L914.5 101.8 L914.9 101.8 L915.2 101.8 L915.6 101.8 L915.9 101.8 L917.0 101.8 L917.4 101.8 L917.7 101.8 L918.1 101.8 L918.4 101.8 L919.5 101.8 L919.8 101.8 L920.2 101.8 L920.5 101.8 L920.9 101.8 L921.9 101.8 L922.3 101.8 L922.6 101.8 L923.0 101.8 L923.3 101.8 L924.4 101.8 L924.7 101.8 L925.1 101.8 L925.5 101.8 L925.8 101.8 L926.9 101.8 L927.2 101.8 L927.6 101.8 L927.9 101.8 L928.3 101.8 L929.3 101.8 L929.7 101.8 L930.0 101.8 L930.4 101.8 L930.7 101.8 L931.8 101.8 L932.1 101.8 L932.5 101.8 L932.9 101.8 L933.2 101.8 L934.3 101.8 L934.6 101.8 L935.0 101.8 L935.3 101.8 L935.7 101.8 L936.7 101.8 L937.1 101.8 L937.4 101.8 L937.8 101.8 L938.1 101.8 L939.2 101.8 L939.5 101.8 L939.9 101.8 L940.2 101.8 L940.6 101.8 L941.7 101.8 L942.0 101.8 L942.4 101.8 L942.7 101.8 L943.1 101.8 L944.1 101.8 L944.5 101.8 L944.8 101.8 L945.2 101.8 L945.5 101.8 L946.6 101.8 L946.9 101.8 L947.3 101.8 L947.6 101.8 L948.0 101.8 L949.1 101.8 L949.4 101.8 L949.8 101.8 L950.1 101.8 L950.5 101.8 L951.5 101.8 L951.9 101.8 L952.2 101.8 L952.6 101.8 L952.9 101.8 L954.0 101.8 L954.3 101.8 L954.7 101.8 L955.0 101.8 L955.4 101.8 L956.5 101.8 L956.8 101.8 L957.2 101.8 L957.5 101.8 L957.9 101.8 L958.9 101.8 L959.3 101.8 L959.6 101.8 L960.0 101.8 L960.3 101.8 L961.4 101.8 L961.7 101.8 L962.1 101.8 L962.4 101.8 L962.8 101.8 L963.8 101.8 L964.2 101.8 L964.6 101.8 L964.9 101.8 L965.3 101.8 L966.3 101.8 L966.7 101.8 L967.0 101.8 L967.4 101.8 L967.7 101.8 L968.8 101.8 L969.1 101.8 L969.5 101.8 L969.8 101.8 L970.2 101.8 L971.2 101.8 L971.6 101.8 L972.0 101.8 L972.3 101.8 L972.7 101.8 L973.7 101.8 L974.1 101.8 L974.4 101.8 L974.8 101.8 L975.1 101.8 L976.2 101.8 L976.5 101.8 L976.9 101.8 L977.2 101.8 L977.6 101.8 L978.6 101.8 L979.0 101.8 L979.3 101.8 L979.7 101.8 L980.1 101.8 L981.1 101.8 L981.5 101.8 L981.8 101.8 L982.2 101.8 L982.5 101.8 L983.6 101.8 L983.9 101.8 L984.3 101.8 L984.6 101.8 L985.0 101.8 L986.0 101.8 L986.4 101.8 L986.7 101.8 L987.1 101.8 L987.4 101.8 L988.5 101.8 L988.9 101.8 L989.2 101.8 L989.6 101.8 L989.9 101.8 L991.0 101.8 L991.3 101.8 L991.7 101.8 L992.0 101.8 L992.4 101.8 L993.4 101.8 L993.8 101.8 L994.1 101.8 L994.5 101.8 L994.8 101.8 L995.9 101.8 L996.3 101.8 L996.6 101.8 L997.0 101.8 L997.3 101.8 L998.4 101.8 L998.7 101.8 L999.1 101.8 L999.4 101.8 L999.8 101.8 L1000.8 101.8 L1001.2 101.8 L1001.5 101.8 L1001.9 101.8 L1002.2 101.8 L1003.3 101.8 L1003.7 101.8 L1004.0 101.8 L1004.4 101.8 L1004.7 101.8 L1005.8 101.8 L1006.1 101.8 L1006.5 101.8 L1006.8 101.8 L1007.2 101.8 L1008.2 101.8 L1008.6 101.8 L1008.9 101.8 L1009.3 101.8 L1009.6 101.8 L1010.7 101.8 L1011.0 101.8 L1011.4 101.8 L1011.8 101.8 L1012.1 101.8 L1013.2 101.8 L1013.5 101.8 L1013.9 101.8 L1014.2 101.8 L1014.6 101.8 L1015.6 101.8 L1016.0 101.8 L1016.3 101.8 L1016.7 101.8 L1017.0 101.8 L1018.1 101.8 L1018.4 101.8 L1018.8 101.8 L1019.2 101.8 L1019.5 101.8 L1020.6 101.8 L1020.9 101.8 L1021.3 101.8 L1021.6 101.8 L1022.0 101.8 L1023.0 101.8 L1023.4 101.8 L1023.7 101.8 L1024.1 101.8 L1024.4 101.8 L1025.5 101.8 L1025.8 101.8 L1026.2 101.8 L1026.5 101.8 L1026.9 101.8 L1028.0 101.8 L1028.3 101.8 L1028.7 101.8 L1029.0 101.8 L1029.4 101.8 L1030.4 101.8 L1030.8 101.8 L1031.1 101.8 L1031.5 101.8 L1031.8 101.8 L1032.9 101.8 L1033.2 101.8 L1033.6 101.8 L1033.9 101.8 L1034.3 101.8 L1035.4 101.8 L1035.7 101.8 L1036.1 101.8 L1036.4 101.8 L1036.8 101.8 L1037.8 101.8 L1038.2 101.8 L1038.5 101.8 L1038.9 101.8 L1039.2 101.8 L1040.3 101.8 L1040.6 101.8 L1041.0 101.8 L1041.3 101.8 L1041.7 101.8 L1042.8 101.8 L1043.1 101.8 L1043.5 101.8 L1043.8 101.8 L1044.2 101.8 L1045.2 101.8 L1045.6 101.8 L1045.9 101.8 L1046.3 101.8 L1046.6 101.8 L1047.7 101.8 L1048.0 101.8 L1048.4 101.8 L1048.7 144.6 L1049.1 144.6 L1050.1 144.6 L1050.5 144.6 L1050.9 144.6 L1051.2 144.6 L1051.6 144.6 L1052.6 144.6 L1053.0 144.6 L1053.3 144.6 L1053.7 144.6 L1054.0 144.6 L1055.1 144.6 L1055.4 144.6 L1055.8 144.6 L1056.1 144.6 L1056.5 144.6 L1057.5 144.6 L1057.9 144.6 L1058.3 144.6 L1058.6 144.6 L1059.0 144.6 L1060.0 144.6 L1060.4 144.6 L1060.7 144.6 L1061.1 144.6 L1061.4 144.6 L1062.5 144.6 L1062.8 144.6 L1063.2 144.6 L1063.5 144.6 L1063.9 144.6 L1064.9 144.6 L1065.3 144.6 L1065.6 144.6 L1066.0 144.6" stroke="#7f7f7f" stroke-width="4.2" stroke-linejoin="miter" stroke-linecap="butt"/>
</g>
<g fill="none" stroke-linecap="round" stroke-width="4.5">
<path d="M173.4 25.65 H201.6" stroke="#800000"/>
<path d="M518.9 25.65 H547.1" stroke="#000080"/>
<path d="M666.4 25.65 H694.5" stroke="#7f7f7f"/>
</g>
</g>
<g font-family="'Liberation Sans', sans-serif" font-size="24.00px" fill="#000">
<text x="15.1" y="579.9" font-size="24.6px">0</text>
<text x="15.1" y="494.3" font-size="24.6px">1</text>
<text x="15.1" y="408.7" font-size="24.6px">2</text>
<text x="15.1" y="323.2" font-size="24.6px">3</text>
<text x="15.1" y="237.6" font-size="24.6px">4</text>
<text x="15.1" y="152.0" font-size="24.6px">5</text>
<text x="15.1" y="66.4" font-size="24.6px">6</text>
<text transform="translate(64.2 587.6) rotate(-90)" text-anchor="end">Jan-17</text><text transform="translate(106.5 587.6) rotate(-90)" text-anchor="end">May-17</text><text transform="translate(149.8 587.6) rotate(-90)" text-anchor="end">Sep-17</text><text transform="translate(192.8 587.6) rotate(-90)" text-anchor="end">Jan-18</text><text transform="translate(235.0 587.6) rotate(-90)" text-anchor="end">May-18</text><text transform="translate(278.4 587.6) rotate(-90)" text-anchor="end">Sep-18</text><text transform="translate(321.3 587.6) rotate(-90)" text-anchor="end">Jan-19</text><text transform="translate(363.6 587.6) rotate(-90)" text-anchor="end">May-19</text><text transform="translate(406.9 587.6) rotate(-90)" text-anchor="end">Sep-19</text><text transform="translate(449.9 587.6) rotate(-90)" text-anchor="end">Jan-20</text><text transform="translate(492.5 587.6) rotate(-90)" text-anchor="end">May-20</text><text transform="translate(535.9 587.6) rotate(-90)" text-anchor="end">Sep-20</text><text transform="translate(578.8 587.6) rotate(-90)" text-anchor="end">Jan-21</text><text transform="translate(621.1 587.6) rotate(-90)" text-anchor="end">May-21</text><text transform="translate(664.4 587.6) rotate(-90)" text-anchor="end">Sep-21</text><text transform="translate(707.4 587.6) rotate(-90)" text-anchor="end">Jan-22</text><text transform="translate(749.7 587.6) rotate(-90)" text-anchor="end">May-22</text><text transform="translate(793.0 587.6) rotate(-90)" text-anchor="end">Sep-22</text><text transform="translate(836.0 587.6) rotate(-90)" text-anchor="end">Jan-23</text><text transform="translate(878.2 587.6) rotate(-90)" text-anchor="end">May-23</text><text transform="translate(921.6 587.6) rotate(-90)" text-anchor="end">Sep-23</text><text transform="translate(964.6 587.6) rotate(-90)" text-anchor="end">Jan-24</text><text transform="translate(1007.2 587.6) rotate(-90)" text-anchor="end">May-24</text><text transform="translate(1050.5 587.6) rotate(-90)" text-anchor="end">Sep-24</text>
<text x="30.8" y="33.9" font-size="24.6px">%</text>
<text x="374.0" y="33.5" font-size="24.6px" textLength="48.2" lengthAdjust="spacingAndGlyphs">99%</text>
<text x="550.3" y="33.2" font-size="24.6px">SOFR</text>
</g>
<g font-family="'Liberation Sans', 'Noto Sans CJK SC', sans-serif" font-size="24px" fill="#000">
<text x="4.8" y="33.2">（</text>
<text x="54.3" y="33.2">）</text>
<text x="205.5" y="33.6" textLength="169.4" lengthAdjust="spacing">联邦基金利率：</text>
<text x="423.3" y="33.6" textLength="48.4" lengthAdjust="spacing">分位</text>
<text x="698.5" y="33.6" textLength="242" lengthAdjust="spacing">联邦基金利率目标上沿</text>
</g>
<text x="957.5" y="667.6" font-family="'Liberation Serif', serif" font-size="17.5px" textLength="115.5" lengthAdjust="spacingAndGlyphs" fill="#fff" stroke="#fff" stroke-width="3" stroke-linejoin="round" opacity="0.6">www.365jz.com</text>
<text x="957.5" y="667.6" font-family="'Liberation Serif', serif" font-size="17.5px" textLength="115.5" lengthAdjust="spacingAndGlyphs" fill="#17377a" stroke="#17377a" stroke-width="0.5">www.365jz.com</text>
</svg>
</body></html>
